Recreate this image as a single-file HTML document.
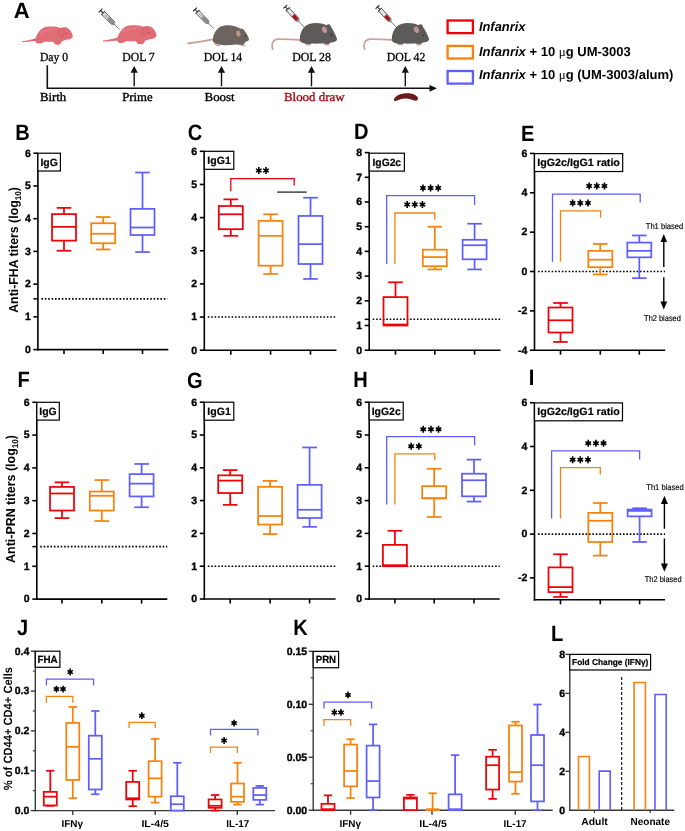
<!DOCTYPE html>
<html><head><meta charset="utf-8"><style>
html,body{margin:0;padding:0;background:#fff;width:685px;height:831px;overflow:hidden}
svg{display:block;will-change:transform;text-rendering:geometricPrecision}
</style></head><body>
<svg width="685" height="831" viewBox="0 0 685 831">
<rect width="685" height="831" fill="#fff"/>
<text x="13.85" y="17.60" font-family="Liberation Sans" font-size="22" font-weight="bold" font-style="normal" text-anchor="start" fill="#000" >A</text>
<g transform="translate(18,20) scale(1.0)">
<path d="M3.9,21.2 C9,20.5 14,19.5 17.5,18.2 C19,14 21.5,10 25,8 C28,6.4 33,6.3 38,6.8 C40.5,7.1 41.5,7.8 42.5,8 C44,7.2 46.5,7.0 49,7.8 C52,9.2 54.5,13 54.8,16.3 C54.6,18.2 52.5,19.3 50,19.6 C47.5,19.9 45.5,20.6 44,21.4 C43,22.5 42.8,24 41.6,24.6 C40,24.9 38,24.8 36.8,24.3 C36.3,23.3 35.8,22.2 35,21.8 C31,21.9 28,21.9 26,21.7 C25,22.6 23.5,23.5 21.9,23.5 C20,23.6 18.7,23.4 18.2,22.8 C17.6,22.2 17.4,21.6 17.2,21.1 C13,21.6 8,22.1 3.9,22.2 Z" stroke="none" stroke-width="0" fill="#e06c75" />
<path d="M22,12 C28,8 36,8 42,9 C36,10 28,11 22,14 Z" fill="#ea8088" opacity="0.6"/>
<ellipse cx="43.5" cy="12.6" rx="2.6" ry="3.6" fill="none" stroke="#c9535b" stroke-width="0.6"/>
<circle cx="48" cy="13.6" r="0.9" fill="#b04048"/>
</g>
<g transform="translate(99,18.3) scale(1.05)">
<path d="M3.9,21.2 C9,20.5 14,19.5 17.5,18.2 C19,14 21.5,10 25,8 C28,6.4 33,6.3 38,6.8 C40.5,7.1 41.5,7.8 42.5,8 C44,7.2 46.5,7.0 49,7.8 C52,9.2 54.5,13 54.8,16.3 C54.6,18.2 52.5,19.3 50,19.6 C47.5,19.9 45.5,20.6 44,21.4 C43,22.5 42.8,24 41.6,24.6 C40,24.9 38,24.8 36.8,24.3 C36.3,23.3 35.8,22.2 35,21.8 C31,21.9 28,21.9 26,21.7 C25,22.6 23.5,23.5 21.9,23.5 C20,23.6 18.7,23.4 18.2,22.8 C17.6,22.2 17.4,21.6 17.2,21.1 C13,21.6 8,22.1 3.9,22.2 Z" stroke="none" stroke-width="0" fill="#e06c75" />
<path d="M22,12 C28,8 36,8 42,9 C36,10 28,11 22,14 Z" fill="#ea8088" opacity="0.6"/>
<ellipse cx="43.5" cy="12.6" rx="2.6" ry="3.6" fill="none" stroke="#c9535b" stroke-width="0.6"/>
<circle cx="48" cy="13.6" r="0.9" fill="#b04048"/>
</g>
<g transform="translate(100.60,10.50) rotate(45.15)">
<line x1="0" y1="-2.6" x2="0" y2="2.6" stroke="#333" stroke-width="1.2"/>
<line x1="0" y1="0" x2="3.6" y2="0" stroke="#333" stroke-width="1.1"/>
<line x1="3.6" y1="-2.6" x2="3.6" y2="2.6" stroke="#333" stroke-width="1.2"/>
<rect x="3.8" y="-2" width="14.01" height="4" fill="#e4e4e4" stroke="#444" stroke-width="0.8"/>
<rect x="10.80" y="-1.6" width="6.58" height="3.2" fill="#8a8a8a"/>
<line x1="6" y1="0" x2="10.80" y2="0" stroke="#aaa" stroke-width="1.2"/>
<path d="M17.81,-1.3 L19.81,-0.6 L19.81,0.6 L17.81,1.3 Z" fill="#ccc" stroke="#444" stroke-width="0.6"/>
<line x1="19.81" y1="0" x2="26.94" y2="0" stroke="#555" stroke-width="0.7"/>
</g>
<g transform="translate(195.00,9.40) rotate(45.76)">
<line x1="0" y1="-2.6" x2="0" y2="2.6" stroke="#333" stroke-width="1.2"/>
<line x1="0" y1="0" x2="3.6" y2="0" stroke="#333" stroke-width="1.1"/>
<line x1="3.6" y1="-2.6" x2="3.6" y2="2.6" stroke="#333" stroke-width="1.2"/>
<rect x="3.8" y="-2" width="13.86" height="4" fill="#e4e4e4" stroke="#444" stroke-width="0.8"/>
<rect x="10.73" y="-1.6" width="6.52" height="3.2" fill="#8a8a8a"/>
<line x1="6" y1="0" x2="10.73" y2="0" stroke="#aaa" stroke-width="1.2"/>
<path d="M17.66,-1.3 L19.66,-0.6 L19.66,0.6 L17.66,1.3 Z" fill="#ccc" stroke="#444" stroke-width="0.6"/>
<line x1="19.66" y1="0" x2="26.66" y2="0" stroke="#555" stroke-width="0.7"/>
</g>
<path d="M188.1,43.4 C195,42.4 203,41.3 213.8,39.4" stroke="#c9a09b" stroke-width="1.8" fill="none" stroke-linecap="round"/>
<path d="M212.8,41 C212.8,35 215.5,29.5 220,27 C223,25.4 227,25 231,25.6 C235,26.3 238,27.5 240,28.6 C242,28.4 243.5,29.3 244.5,30.8 C246.3,33.2 248,36 248.9,38.5 C249.2,40 248.3,41 246.5,41.6 C245.5,42 244.8,42.5 244.5,43.5 C244,44.8 242.5,45.3 240.5,45 C238.5,44.7 237,44.4 235.5,44.6 C232,45.2 228,45.5 224,45.3 C221,45.2 219,44.8 217.5,44.3 C215,43.5 213.2,42.6 212.8,41 Z" stroke="none" stroke-width="0" fill="#6d645f" />
<ellipse cx="238.3" cy="33.6" rx="2.1" ry="3" fill="#c4938e" transform="rotate(-10 238.3 33.6)"/>
<circle cx="245.3" cy="36.3" r="0.7" fill="#222"/>
<path d="M214.5,43.6 C216,45.3 218.5,45.8 220,45.3 M240.5,44.6 C242,46 244.5,46 245.5,45.2" stroke="#c9a09b" stroke-width="1.1" fill="none"/>
<g transform="translate(285.30,6.60) rotate(47.50)">
<line x1="0" y1="-2.6" x2="0" y2="2.6" stroke="#333" stroke-width="1.2"/>
<line x1="0" y1="0" x2="3.6" y2="0" stroke="#333" stroke-width="1.1"/>
<line x1="3.6" y1="-2.6" x2="3.6" y2="2.6" stroke="#333" stroke-width="1.2"/>
<rect x="3.8" y="-2" width="14.32" height="4" fill="#e4e4e4" stroke="#444" stroke-width="0.8"/>
<rect x="11.67" y="-1.6" width="6.01" height="3.2" fill="#b01018"/>
<path d="M18.12,-1.3 L20.12,-0.6 L20.12,0.6 L18.12,1.3 Z" fill="#ccc" stroke="#444" stroke-width="0.6"/>
<line x1="20.12" y1="0" x2="27.53" y2="0" stroke="#555" stroke-width="0.7"/>
</g>
<path d="M31,22 C24,21.5 15,21 8.5,21.1 C4.5,21.4 2.2,24 2.1,27 C2.1,29 2.3,30.3 2.7,31.2" stroke="#cfa19c" stroke-width="1.8" fill="none" transform="translate(270,18) scale(1.0)" stroke-linecap="round"/>
<g transform="translate(270,18) scale(1.0)">
<path d="M29.8,22.7 C29.6,17.5 31,12.5 34,9.3 C37,6.3 41,5 46,5 C50,5 53.5,5.8 56.5,7.2 C57.3,6.3 58.5,6.1 59.5,6.6 C60.6,7.2 61,8.3 61.2,9.3 C63,12 65.5,16.5 67,20.5 C67.3,22.3 66,23.5 64,24 C62.3,24.4 61,24.6 60,24.8 C59.3,25.8 58.5,26.6 57,26.6 C55.5,26.6 54.5,26.2 54,25.6 C50,25.6 45,25.7 41.5,25.6 C40.5,26.4 39,26.8 37.5,26.5 C36,26.2 34.8,25.8 34,25.3 C32.5,24.9 31,24 29.8,22.7 Z" stroke="none" stroke-width="0" fill="#5d5b5a" />
<ellipse cx="54.4" cy="11.8" rx="2.4" ry="3.3" fill="#bf9592" transform="rotate(-20 54.4 11.8)"/>
<circle cx="61.2" cy="17.3" r="0.75" fill="#1e1e1e"/>
<path d="M35,25.6 C36.5,26.9 39,27.3 41,26.7 M54,25.8 C55.5,27 58,27.1 59.5,26.4" stroke="#cfa19c" stroke-width="1.1" fill="none"/>
</g>
<g transform="translate(377.50,7.00) rotate(47.24)">
<line x1="0" y1="-2.6" x2="0" y2="2.6" stroke="#333" stroke-width="1.2"/>
<line x1="0" y1="0" x2="3.6" y2="0" stroke="#333" stroke-width="1.1"/>
<line x1="3.6" y1="-2.6" x2="3.6" y2="2.6" stroke="#333" stroke-width="1.2"/>
<rect x="3.8" y="-2" width="14.09" height="4" fill="#e4e4e4" stroke="#444" stroke-width="0.8"/>
<rect x="11.55" y="-1.6" width="5.92" height="3.2" fill="#b01018"/>
<path d="M17.89,-1.3 L19.89,-0.6 L19.89,0.6 L17.89,1.3 Z" fill="#ccc" stroke="#444" stroke-width="0.6"/>
<line x1="19.89" y1="0" x2="27.10" y2="0" stroke="#555" stroke-width="0.7"/>
</g>
<path d="M31,22 C24,21.5 15,21 8.5,21.1 C4.5,21.4 2.2,24 2.1,27 C2.1,29 2.3,30.3 2.7,31.2" stroke="#cfa19c" stroke-width="1.8" fill="none" transform="translate(362,18) scale(1.0)" stroke-linecap="round"/>
<g transform="translate(362,18) scale(1.0)">
<path d="M29.8,22.7 C29.6,17.5 31,12.5 34,9.3 C37,6.3 41,5 46,5 C50,5 53.5,5.8 56.5,7.2 C57.3,6.3 58.5,6.1 59.5,6.6 C60.6,7.2 61,8.3 61.2,9.3 C63,12 65.5,16.5 67,20.5 C67.3,22.3 66,23.5 64,24 C62.3,24.4 61,24.6 60,24.8 C59.3,25.8 58.5,26.6 57,26.6 C55.5,26.6 54.5,26.2 54,25.6 C50,25.6 45,25.7 41.5,25.6 C40.5,26.4 39,26.8 37.5,26.5 C36,26.2 34.8,25.8 34,25.3 C32.5,24.9 31,24 29.8,22.7 Z" stroke="none" stroke-width="0" fill="#5d5b5a" />
<ellipse cx="54.4" cy="11.8" rx="2.4" ry="3.3" fill="#bf9592" transform="rotate(-20 54.4 11.8)"/>
<circle cx="61.2" cy="17.3" r="0.75" fill="#1e1e1e"/>
<path d="M35,25.6 C36.5,26.9 39,27.3 41,26.7 M54,25.8 C55.5,27 58,27.1 59.5,26.4" stroke="#cfa19c" stroke-width="1.1" fill="none"/>
</g>
<text x="39.90" y="61.00" font-family="Liberation Serif" font-size="12.3" font-weight="normal" font-style="normal" text-anchor="start" fill="#000" textLength="28.1" lengthAdjust="spacingAndGlyphs" stroke="#000" stroke-width="0.3">Day 0</text>
<text x="122.20" y="61.00" font-family="Liberation Serif" font-size="12.3" font-weight="normal" font-style="normal" text-anchor="start" fill="#000" textLength="32.5" lengthAdjust="spacingAndGlyphs" stroke="#000" stroke-width="0.3">DOL 7</text>
<text x="203.70" y="61.00" font-family="Liberation Serif" font-size="12.3" font-weight="normal" font-style="normal" text-anchor="start" fill="#000" textLength="38.5" lengthAdjust="spacingAndGlyphs" stroke="#000" stroke-width="0.3">DOL 14</text>
<text x="292.20" y="61.00" font-family="Liberation Serif" font-size="12.3" font-weight="normal" font-style="normal" text-anchor="start" fill="#000" textLength="38.8" lengthAdjust="spacingAndGlyphs" stroke="#000" stroke-width="0.3">DOL 28</text>
<text x="386.70" y="61.00" font-family="Liberation Serif" font-size="12.3" font-weight="normal" font-style="normal" text-anchor="start" fill="#000" textLength="38.6" lengthAdjust="spacingAndGlyphs" stroke="#000" stroke-width="0.3">DOL 42</text>
<text x="39.90" y="100.80" font-family="Liberation Serif" font-size="12.3" font-weight="normal" font-style="normal" text-anchor="start" fill="#000" textLength="26.3" lengthAdjust="spacingAndGlyphs" stroke="#000" stroke-width="0.35">Birth</text>
<text x="122.20" y="100.80" font-family="Liberation Serif" font-size="12.3" font-weight="normal" font-style="normal" text-anchor="start" fill="#000" textLength="30.4" lengthAdjust="spacingAndGlyphs" stroke="#000" stroke-width="0.35">Prime</text>
<text x="204.50" y="100.80" font-family="Liberation Serif" font-size="12.3" font-weight="normal" font-style="normal" text-anchor="start" fill="#000" textLength="30.2" lengthAdjust="spacingAndGlyphs" stroke="#000" stroke-width="0.35">Boost</text>
<text x="284.00" y="100.80" font-family="Liberation Serif" font-size="12.3" font-weight="normal" font-style="normal" text-anchor="start" fill="#a90e17" textLength="60.5" lengthAdjust="spacingAndGlyphs" stroke="#a90e17" stroke-width="0.35">Blood draw</text>
<path d="M47.3,65.2 V88.3 H431" stroke="#111" stroke-width="1.6" fill="none" />
<path d="M429.5,84.9 L437,88.3 L429.5,91.7 Z" fill="#111"/>
<line x1="134.20" y1="86.30" x2="134.20" y2="71.00" stroke="#111" stroke-width="1.4" />
<path d="M130.60,72.8 L134.20,65.9 L137.80,72.8 Z" fill="#111"/>
<line x1="221.50" y1="86.30" x2="221.50" y2="71.00" stroke="#111" stroke-width="1.4" />
<path d="M217.90,72.8 L221.50,65.9 L225.10,72.8 Z" fill="#111"/>
<line x1="311.50" y1="86.30" x2="311.50" y2="71.00" stroke="#111" stroke-width="1.4" />
<path d="M307.90,72.8 L311.50,65.9 L315.10,72.8 Z" fill="#111"/>
<line x1="405.30" y1="86.30" x2="405.30" y2="71.00" stroke="#111" stroke-width="1.4" />
<path d="M401.70,72.8 L405.30,65.9 L408.90,72.8 Z" fill="#111"/>
<path d="M394,100.5 C393.5,97.5 398,94 405,93.2 C411,92.8 416,94.2 417.8,97.5 C418.3,99.5 417.5,100.8 415.5,100.7 C413,100.5 410,98.7 405.5,98.6 C401,98.6 398,100.6 396,101 C395,101.2 394.2,101 394,100.5 Z" fill="#6a1a1c"/>
<rect x="447.6" y="20.50" width="25.3" height="12.6" fill="none" stroke="#f00008" stroke-width="2.3"/>
<rect x="447.6" y="45.90" width="25.3" height="12.6" fill="none" stroke="#f7820c" stroke-width="2.3"/>
<rect x="447.6" y="71.00" width="25.3" height="12.6" fill="none" stroke="#5f5fff" stroke-width="2.3"/>
<text x="478.90" y="31.40" font-family="Liberation Sans" font-size="13" font-weight="bold" font-style="italic" text-anchor="start" fill="#000" textLength="46.6" lengthAdjust="spacingAndGlyphs" >Infanrix</text>
<text x="478.90" y="55.50" font-family="Liberation Sans" font-size="13" font-weight="bold" font-style="normal" text-anchor="start" fill="#000" ><tspan font-style="italic">Infanrix</tspan> + 10 <tspan font-family="Liberation Serif" font-weight="normal">&#956;</tspan>g UM-3003</text>
<text x="478.90" y="79.20" font-family="Liberation Sans" font-size="13" font-weight="bold" font-style="normal" text-anchor="start" fill="#000" ><tspan font-style="italic">Infanrix</tspan> + 10 <tspan font-family="Liberation Serif" font-weight="normal">&#956;</tspan>g (UM-3003/alum)</text>
<text transform="translate(15.30,139.50) scale(0.9,1)" font-family="Liberation Sans" font-size="22.3" font-weight="bold">B</text>
<line x1="41.40" y1="298.87" x2="167.50" y2="298.87" stroke="#000" stroke-width="1.6" stroke-dasharray="1.6 1.8"/>
<line x1="33.40" y1="298.87" x2="37.90" y2="298.87" stroke="#000" stroke-width="1.5" />
<line x1="37.90" y1="153.22" x2="37.90" y2="350.40" stroke="#000" stroke-width="1.6" />
<line x1="37.10" y1="349.60" x2="168.30" y2="349.60" stroke="#000" stroke-width="1.6" />
<line x1="33.40" y1="349.60" x2="37.90" y2="349.60" stroke="#000" stroke-width="1.6" />
<text x="30.80" y="352.95" font-family="Liberation Sans" font-size="10.5" font-weight="bold" font-style="normal" text-anchor="end" fill="#000" stroke="#000" stroke-width="0.35">0</text>
<line x1="33.40" y1="316.87" x2="37.90" y2="316.87" stroke="#000" stroke-width="1.6" />
<text x="30.80" y="320.22" font-family="Liberation Sans" font-size="10.5" font-weight="bold" font-style="normal" text-anchor="end" fill="#000" stroke="#000" stroke-width="0.35">1</text>
<line x1="33.40" y1="284.14" x2="37.90" y2="284.14" stroke="#000" stroke-width="1.6" />
<text x="30.80" y="287.49" font-family="Liberation Sans" font-size="10.5" font-weight="bold" font-style="normal" text-anchor="end" fill="#000" stroke="#000" stroke-width="0.35">2</text>
<line x1="33.40" y1="251.41" x2="37.90" y2="251.41" stroke="#000" stroke-width="1.6" />
<text x="30.80" y="254.76" font-family="Liberation Sans" font-size="10.5" font-weight="bold" font-style="normal" text-anchor="end" fill="#000" stroke="#000" stroke-width="0.35">3</text>
<line x1="33.40" y1="218.68" x2="37.90" y2="218.68" stroke="#000" stroke-width="1.6" />
<text x="30.80" y="222.03" font-family="Liberation Sans" font-size="10.5" font-weight="bold" font-style="normal" text-anchor="end" fill="#000" stroke="#000" stroke-width="0.35">4</text>
<line x1="33.40" y1="185.95" x2="37.90" y2="185.95" stroke="#000" stroke-width="1.6" />
<text x="30.80" y="189.30" font-family="Liberation Sans" font-size="10.5" font-weight="bold" font-style="normal" text-anchor="end" fill="#000" stroke="#000" stroke-width="0.35">5</text>
<line x1="33.40" y1="153.22" x2="37.90" y2="153.22" stroke="#000" stroke-width="1.6" />
<text x="30.80" y="156.57" font-family="Liberation Sans" font-size="10.5" font-weight="bold" font-style="normal" text-anchor="end" fill="#000" stroke="#000" stroke-width="0.35">6</text>
<line x1="64.00" y1="349.60" x2="64.00" y2="354.10" stroke="#000" stroke-width="1.6" />
<line x1="103.20" y1="349.60" x2="103.20" y2="354.10" stroke="#000" stroke-width="1.6" />
<line x1="142.50" y1="349.60" x2="142.50" y2="354.10" stroke="#000" stroke-width="1.6" />
<rect x="37.90" y="153.22" width="22.50" height="17.80" fill="#fff" stroke="#000" stroke-width="1.2"/>
<text x="49.15" y="165.59" font-family="Liberation Sans" font-size="10.5" font-weight="bold" font-style="normal" text-anchor="middle" fill="#000" textLength="17.4" lengthAdjust="spacingAndGlyphs" stroke="#000" stroke-width="0.2">IgG</text>
<line x1="64.00" y1="207.88" x2="64.00" y2="214.10" stroke="#f00008" stroke-width="1.75" />
<line x1="56.70" y1="207.88" x2="71.30" y2="207.88" stroke="#f00008" stroke-width="1.75" />
<line x1="64.00" y1="240.61" x2="64.00" y2="250.76" stroke="#f00008" stroke-width="1.75" />
<line x1="56.70" y1="250.76" x2="71.30" y2="250.76" stroke="#f00008" stroke-width="1.75" />
<rect x="52.00" y="214.10" width="24.00" height="26.51" fill="none" stroke="#f00008" stroke-width="1.75"/>
<line x1="52.00" y1="226.86" x2="76.00" y2="226.86" stroke="#f00008" stroke-width="1.75" />
<line x1="103.20" y1="217.04" x2="103.20" y2="223.26" stroke="#f7820c" stroke-width="1.75" />
<line x1="95.90" y1="217.04" x2="110.50" y2="217.04" stroke="#f7820c" stroke-width="1.75" />
<line x1="103.20" y1="243.23" x2="103.20" y2="249.45" stroke="#f7820c" stroke-width="1.75" />
<line x1="95.90" y1="249.45" x2="110.50" y2="249.45" stroke="#f7820c" stroke-width="1.75" />
<rect x="91.20" y="223.26" width="24.00" height="19.97" fill="none" stroke="#f7820c" stroke-width="1.75"/>
<line x1="91.20" y1="233.74" x2="115.20" y2="233.74" stroke="#f7820c" stroke-width="1.75" />
<line x1="142.50" y1="172.53" x2="142.50" y2="208.86" stroke="#5f5fff" stroke-width="1.75" />
<line x1="135.20" y1="172.53" x2="149.80" y2="172.53" stroke="#5f5fff" stroke-width="1.75" />
<line x1="142.50" y1="235.05" x2="142.50" y2="252.06" stroke="#5f5fff" stroke-width="1.75" />
<line x1="135.20" y1="252.06" x2="149.80" y2="252.06" stroke="#5f5fff" stroke-width="1.75" />
<rect x="130.50" y="208.86" width="24.00" height="26.18" fill="none" stroke="#5f5fff" stroke-width="1.75"/>
<line x1="130.50" y1="227.52" x2="154.50" y2="227.52" stroke="#5f5fff" stroke-width="1.75" />
<text transform="translate(17.50,250.00) rotate(-90)" font-family="Liberation Sans" font-size="13" font-weight="bold" text-anchor="middle" textLength="125.6" lengthAdjust="spacingAndGlyphs">Anti-FHA titers (log<tspan font-size="8.5" dy="3">10</tspan><tspan dy="-3">)</tspan></text>
<text transform="translate(187.80,140.10) scale(0.9,1)" font-family="Liberation Sans" font-size="22.3" font-weight="bold">C</text>
<line x1="207.80" y1="317.05" x2="336.50" y2="317.05" stroke="#000" stroke-width="1.6" stroke-dasharray="1.6 1.8"/>
<line x1="204.30" y1="151.30" x2="204.30" y2="351.00" stroke="#000" stroke-width="1.6" />
<line x1="203.50" y1="350.20" x2="336.50" y2="350.20" stroke="#000" stroke-width="1.6" />
<line x1="199.80" y1="350.20" x2="204.30" y2="350.20" stroke="#000" stroke-width="1.6" />
<text x="197.20" y="353.55" font-family="Liberation Sans" font-size="10.5" font-weight="bold" font-style="normal" text-anchor="end" fill="#000" stroke="#000" stroke-width="0.35">0</text>
<line x1="199.80" y1="317.05" x2="204.30" y2="317.05" stroke="#000" stroke-width="1.6" />
<text x="197.20" y="320.40" font-family="Liberation Sans" font-size="10.5" font-weight="bold" font-style="normal" text-anchor="end" fill="#000" stroke="#000" stroke-width="0.35">1</text>
<line x1="199.80" y1="283.90" x2="204.30" y2="283.90" stroke="#000" stroke-width="1.6" />
<text x="197.20" y="287.25" font-family="Liberation Sans" font-size="10.5" font-weight="bold" font-style="normal" text-anchor="end" fill="#000" stroke="#000" stroke-width="0.35">2</text>
<line x1="199.80" y1="250.75" x2="204.30" y2="250.75" stroke="#000" stroke-width="1.6" />
<text x="197.20" y="254.10" font-family="Liberation Sans" font-size="10.5" font-weight="bold" font-style="normal" text-anchor="end" fill="#000" stroke="#000" stroke-width="0.35">3</text>
<line x1="199.80" y1="217.60" x2="204.30" y2="217.60" stroke="#000" stroke-width="1.6" />
<text x="197.20" y="220.95" font-family="Liberation Sans" font-size="10.5" font-weight="bold" font-style="normal" text-anchor="end" fill="#000" stroke="#000" stroke-width="0.35">4</text>
<line x1="199.80" y1="184.45" x2="204.30" y2="184.45" stroke="#000" stroke-width="1.6" />
<text x="197.20" y="187.80" font-family="Liberation Sans" font-size="10.5" font-weight="bold" font-style="normal" text-anchor="end" fill="#000" stroke="#000" stroke-width="0.35">5</text>
<line x1="199.80" y1="151.30" x2="204.30" y2="151.30" stroke="#000" stroke-width="1.6" />
<text x="197.20" y="154.65" font-family="Liberation Sans" font-size="10.5" font-weight="bold" font-style="normal" text-anchor="end" fill="#000" stroke="#000" stroke-width="0.35">6</text>
<line x1="230.80" y1="350.20" x2="230.80" y2="354.70" stroke="#000" stroke-width="1.6" />
<line x1="270.60" y1="350.20" x2="270.60" y2="354.70" stroke="#000" stroke-width="1.6" />
<line x1="310.50" y1="350.20" x2="310.50" y2="354.70" stroke="#000" stroke-width="1.6" />
<rect x="204.30" y="151.30" width="29.50" height="18.00" fill="#fff" stroke="#000" stroke-width="1.2"/>
<text x="219.05" y="163.77" font-family="Liberation Sans" font-size="10.5" font-weight="bold" font-style="normal" text-anchor="middle" fill="#000" textLength="23.5" lengthAdjust="spacingAndGlyphs" stroke="#000" stroke-width="0.2">IgG1</text>
<line x1="230.80" y1="199.37" x2="230.80" y2="206.00" stroke="#f00008" stroke-width="1.75" />
<line x1="223.50" y1="199.37" x2="238.10" y2="199.37" stroke="#f00008" stroke-width="1.75" />
<line x1="230.80" y1="229.20" x2="230.80" y2="235.83" stroke="#f00008" stroke-width="1.75" />
<line x1="223.50" y1="235.83" x2="238.10" y2="235.83" stroke="#f00008" stroke-width="1.75" />
<rect x="218.80" y="206.00" width="24.00" height="23.20" fill="none" stroke="#f00008" stroke-width="1.75"/>
<line x1="218.80" y1="214.28" x2="242.80" y2="214.28" stroke="#f00008" stroke-width="1.75" />
<line x1="270.60" y1="214.28" x2="270.60" y2="220.91" stroke="#f7820c" stroke-width="1.75" />
<line x1="263.30" y1="214.28" x2="277.90" y2="214.28" stroke="#f7820c" stroke-width="1.75" />
<line x1="270.60" y1="265.67" x2="270.60" y2="273.95" stroke="#f7820c" stroke-width="1.75" />
<line x1="263.30" y1="273.95" x2="277.90" y2="273.95" stroke="#f7820c" stroke-width="1.75" />
<rect x="258.60" y="220.91" width="24.00" height="44.75" fill="none" stroke="#f7820c" stroke-width="1.75"/>
<line x1="258.60" y1="235.83" x2="282.60" y2="235.83" stroke="#f7820c" stroke-width="1.75" />
<line x1="310.50" y1="197.71" x2="310.50" y2="215.94" stroke="#5f5fff" stroke-width="1.75" />
<line x1="303.20" y1="197.71" x2="317.80" y2="197.71" stroke="#5f5fff" stroke-width="1.75" />
<line x1="310.50" y1="264.01" x2="310.50" y2="278.93" stroke="#5f5fff" stroke-width="1.75" />
<line x1="303.20" y1="278.93" x2="317.80" y2="278.93" stroke="#5f5fff" stroke-width="1.75" />
<rect x="298.50" y="215.94" width="24.00" height="48.07" fill="none" stroke="#5f5fff" stroke-width="1.75"/>
<line x1="298.50" y1="244.12" x2="322.50" y2="244.12" stroke="#5f5fff" stroke-width="1.75" />
<path d="M230.80,191.30 V178.60 H294.20 V185.60" stroke="#f00008" stroke-width="1.3" fill="none" />
<line x1="277.10" y1="192.10" x2="306.70" y2="192.10" stroke="#333" stroke-width="1.4" />
<path d="M258.80,167.00 V174.00 M256.01,168.89 L261.59,172.11 M256.01,172.11 L261.59,168.89 " stroke="#000" stroke-width="1.61" fill="none" stroke-linecap="butt"/>
<circle cx="258.80" cy="170.50" r="1.82" fill="#000"/>
<path d="M266.00,167.00 V174.00 M263.21,168.89 L268.79,172.11 M263.21,172.11 L268.79,168.89 " stroke="#000" stroke-width="1.61" fill="none" stroke-linecap="butt"/>
<circle cx="266.00" cy="170.50" r="1.82" fill="#000"/>
<text transform="translate(354.05,139.30) scale(0.9,1)" font-family="Liberation Sans" font-size="22.3" font-weight="bold">D</text>
<line x1="372.70" y1="319.32" x2="500.60" y2="319.32" stroke="#000" stroke-width="1.6" stroke-dasharray="1.6 1.8"/>
<line x1="364.70" y1="319.32" x2="369.20" y2="319.32" stroke="#000" stroke-width="1.5" />
<line x1="369.20" y1="152.60" x2="369.20" y2="351.00" stroke="#000" stroke-width="1.6" />
<line x1="368.40" y1="350.20" x2="500.60" y2="350.20" stroke="#000" stroke-width="1.6" />
<line x1="364.70" y1="350.20" x2="369.20" y2="350.20" stroke="#000" stroke-width="1.6" />
<text x="362.10" y="353.55" font-family="Liberation Sans" font-size="10.5" font-weight="bold" font-style="normal" text-anchor="end" fill="#000" stroke="#000" stroke-width="0.35">0</text>
<line x1="364.70" y1="325.50" x2="369.20" y2="325.50" stroke="#000" stroke-width="1.6" />
<text x="362.10" y="328.85" font-family="Liberation Sans" font-size="10.5" font-weight="bold" font-style="normal" text-anchor="end" fill="#000" stroke="#000" stroke-width="0.35">1</text>
<line x1="364.70" y1="300.80" x2="369.20" y2="300.80" stroke="#000" stroke-width="1.6" />
<text x="362.10" y="304.15" font-family="Liberation Sans" font-size="10.5" font-weight="bold" font-style="normal" text-anchor="end" fill="#000" stroke="#000" stroke-width="0.35">2</text>
<line x1="364.70" y1="276.10" x2="369.20" y2="276.10" stroke="#000" stroke-width="1.6" />
<text x="362.10" y="279.45" font-family="Liberation Sans" font-size="10.5" font-weight="bold" font-style="normal" text-anchor="end" fill="#000" stroke="#000" stroke-width="0.35">3</text>
<line x1="364.70" y1="251.40" x2="369.20" y2="251.40" stroke="#000" stroke-width="1.6" />
<text x="362.10" y="254.75" font-family="Liberation Sans" font-size="10.5" font-weight="bold" font-style="normal" text-anchor="end" fill="#000" stroke="#000" stroke-width="0.35">4</text>
<line x1="364.70" y1="226.70" x2="369.20" y2="226.70" stroke="#000" stroke-width="1.6" />
<text x="362.10" y="230.05" font-family="Liberation Sans" font-size="10.5" font-weight="bold" font-style="normal" text-anchor="end" fill="#000" stroke="#000" stroke-width="0.35">5</text>
<line x1="364.70" y1="202.00" x2="369.20" y2="202.00" stroke="#000" stroke-width="1.6" />
<text x="362.10" y="205.35" font-family="Liberation Sans" font-size="10.5" font-weight="bold" font-style="normal" text-anchor="end" fill="#000" stroke="#000" stroke-width="0.35">6</text>
<line x1="364.70" y1="177.30" x2="369.20" y2="177.30" stroke="#000" stroke-width="1.6" />
<text x="362.10" y="180.65" font-family="Liberation Sans" font-size="10.5" font-weight="bold" font-style="normal" text-anchor="end" fill="#000" stroke="#000" stroke-width="0.35">7</text>
<line x1="364.70" y1="152.60" x2="369.20" y2="152.60" stroke="#000" stroke-width="1.6" />
<text x="362.10" y="155.95" font-family="Liberation Sans" font-size="10.5" font-weight="bold" font-style="normal" text-anchor="end" fill="#000" stroke="#000" stroke-width="0.35">8</text>
<line x1="395.50" y1="350.20" x2="395.50" y2="354.70" stroke="#000" stroke-width="1.6" />
<line x1="434.80" y1="350.20" x2="434.80" y2="354.70" stroke="#000" stroke-width="1.6" />
<line x1="474.60" y1="350.20" x2="474.60" y2="354.70" stroke="#000" stroke-width="1.6" />
<rect x="369.20" y="153.20" width="35.20" height="17.90" fill="#fff" stroke="#000" stroke-width="1.2"/>
<text x="386.80" y="165.61" font-family="Liberation Sans" font-size="10.5" font-weight="bold" font-style="normal" text-anchor="middle" fill="#000" textLength="28.6" lengthAdjust="spacingAndGlyphs" stroke="#000" stroke-width="0.2">IgG2c</text>
<line x1="395.50" y1="282.27" x2="395.50" y2="297.09" stroke="#f00008" stroke-width="1.75" />
<line x1="388.20" y1="282.27" x2="402.80" y2="282.27" stroke="#f00008" stroke-width="1.75" />
<rect x="383.50" y="297.09" width="24.00" height="28.41" fill="none" stroke="#f00008" stroke-width="1.75"/>
<line x1="383.50" y1="324.50" x2="407.50" y2="324.50" stroke="#f00008" stroke-width="1.75" />
<line x1="434.80" y1="226.70" x2="434.80" y2="249.67" stroke="#f7820c" stroke-width="1.75" />
<line x1="427.50" y1="226.70" x2="442.10" y2="226.70" stroke="#f7820c" stroke-width="1.75" />
<line x1="434.80" y1="266.22" x2="434.80" y2="269.43" stroke="#f7820c" stroke-width="1.75" />
<line x1="427.50" y1="269.43" x2="442.10" y2="269.43" stroke="#f7820c" stroke-width="1.75" />
<rect x="422.80" y="249.67" width="24.00" height="16.55" fill="none" stroke="#f7820c" stroke-width="1.75"/>
<line x1="422.80" y1="257.08" x2="446.80" y2="257.08" stroke="#f7820c" stroke-width="1.75" />
<line x1="474.60" y1="223.74" x2="474.60" y2="239.79" stroke="#5f5fff" stroke-width="1.75" />
<line x1="467.30" y1="223.74" x2="481.90" y2="223.74" stroke="#5f5fff" stroke-width="1.75" />
<line x1="474.60" y1="259.30" x2="474.60" y2="269.43" stroke="#5f5fff" stroke-width="1.75" />
<line x1="467.30" y1="269.43" x2="481.90" y2="269.43" stroke="#5f5fff" stroke-width="1.75" />
<rect x="462.60" y="239.79" width="24.00" height="19.51" fill="none" stroke="#5f5fff" stroke-width="1.75"/>
<line x1="462.60" y1="245.22" x2="486.60" y2="245.22" stroke="#5f5fff" stroke-width="1.75" />
<path d="M386.70,264.00 V195.60 H474.60 V205.00" stroke="#5f5fff" stroke-width="1.3" fill="none" />
<path d="M394.90,264.00 V213.00 H434.80 V219.70" stroke="#f7820c" stroke-width="1.3" fill="none" />
<path d="M422.95,184.50 V191.50 M420.16,186.39 L425.74,189.61 M420.16,189.61 L425.74,186.39 " stroke="#000" stroke-width="1.61" fill="none" stroke-linecap="butt"/>
<circle cx="422.95" cy="188.00" r="1.82" fill="#000"/>
<path d="M430.60,184.50 V191.50 M427.81,186.39 L433.39,189.61 M427.81,189.61 L433.39,186.39 " stroke="#000" stroke-width="1.61" fill="none" stroke-linecap="butt"/>
<circle cx="430.60" cy="188.00" r="1.82" fill="#000"/>
<path d="M438.25,184.50 V191.50 M435.46,186.39 L441.04,189.61 M435.46,189.61 L441.04,186.39 " stroke="#000" stroke-width="1.61" fill="none" stroke-linecap="butt"/>
<circle cx="438.25" cy="188.00" r="1.82" fill="#000"/>
<path d="M407.15,201.00 V208.00 M404.36,202.89 L409.94,206.11 M404.36,206.11 L409.94,202.89 " stroke="#000" stroke-width="1.61" fill="none" stroke-linecap="butt"/>
<circle cx="407.15" cy="204.50" r="1.82" fill="#000"/>
<path d="M414.80,201.00 V208.00 M412.01,202.89 L417.59,206.11 M412.01,206.11 L417.59,202.89 " stroke="#000" stroke-width="1.61" fill="none" stroke-linecap="butt"/>
<circle cx="414.80" cy="204.50" r="1.82" fill="#000"/>
<path d="M422.45,201.00 V208.00 M419.66,202.89 L425.24,206.11 M419.66,206.11 L425.24,202.89 " stroke="#000" stroke-width="1.61" fill="none" stroke-linecap="butt"/>
<circle cx="422.45" cy="204.50" r="1.82" fill="#000"/>
<text transform="translate(520.95,141.10) scale(0.9,1)" font-family="Liberation Sans" font-size="22.3" font-weight="bold">E</text>
<line x1="538.00" y1="271.50" x2="665.00" y2="271.50" stroke="#000" stroke-width="1.6" stroke-dasharray="1.6 1.8"/>
<line x1="534.50" y1="153.42" x2="534.50" y2="351.02" stroke="#000" stroke-width="1.6" />
<line x1="533.70" y1="350.22" x2="665.20" y2="350.22" stroke="#000" stroke-width="1.6" />
<line x1="530.00" y1="153.42" x2="534.50" y2="153.42" stroke="#000" stroke-width="1.6" />
<text x="527.40" y="156.77" font-family="Liberation Sans" font-size="10.5" font-weight="bold" font-style="normal" text-anchor="end" fill="#000" stroke="#000" stroke-width="0.35">6</text>
<line x1="530.00" y1="192.78" x2="534.50" y2="192.78" stroke="#000" stroke-width="1.6" />
<text x="527.40" y="196.13" font-family="Liberation Sans" font-size="10.5" font-weight="bold" font-style="normal" text-anchor="end" fill="#000" stroke="#000" stroke-width="0.35">4</text>
<line x1="530.00" y1="232.14" x2="534.50" y2="232.14" stroke="#000" stroke-width="1.6" />
<text x="527.40" y="235.49" font-family="Liberation Sans" font-size="10.5" font-weight="bold" font-style="normal" text-anchor="end" fill="#000" stroke="#000" stroke-width="0.35">2</text>
<line x1="530.00" y1="271.50" x2="534.50" y2="271.50" stroke="#000" stroke-width="1.6" />
<text x="527.40" y="274.85" font-family="Liberation Sans" font-size="10.5" font-weight="bold" font-style="normal" text-anchor="end" fill="#000" stroke="#000" stroke-width="0.35">0</text>
<line x1="530.00" y1="310.86" x2="534.50" y2="310.86" stroke="#000" stroke-width="1.6" />
<text x="527.40" y="314.21" font-family="Liberation Sans" font-size="10.5" font-weight="bold" font-style="normal" text-anchor="end" fill="#000" stroke="#000" stroke-width="0.35">-2</text>
<line x1="530.00" y1="350.22" x2="534.50" y2="350.22" stroke="#000" stroke-width="1.6" />
<text x="527.40" y="353.57" font-family="Liberation Sans" font-size="10.5" font-weight="bold" font-style="normal" text-anchor="end" fill="#000" stroke="#000" stroke-width="0.35">-4</text>
<line x1="560.50" y1="350.22" x2="560.50" y2="354.72" stroke="#000" stroke-width="1.6" />
<line x1="600.30" y1="350.22" x2="600.30" y2="354.72" stroke="#000" stroke-width="1.6" />
<line x1="639.30" y1="350.22" x2="639.30" y2="354.72" stroke="#000" stroke-width="1.6" />
<rect x="534.50" y="153.62" width="88.20" height="17.90" fill="#fff" stroke="#000" stroke-width="1.2"/>
<text x="578.60" y="166.03" font-family="Liberation Sans" font-size="10.5" font-weight="bold" font-style="normal" text-anchor="middle" fill="#000" textLength="82.6" lengthAdjust="spacingAndGlyphs" stroke="#000" stroke-width="0.2">IgG2c/IgG1 ratio</text>
<line x1="560.50" y1="302.99" x2="560.50" y2="307.51" stroke="#f00008" stroke-width="1.75" />
<line x1="553.20" y1="302.99" x2="567.80" y2="302.99" stroke="#f00008" stroke-width="1.75" />
<line x1="560.50" y1="332.51" x2="560.50" y2="341.95" stroke="#f00008" stroke-width="1.75" />
<line x1="553.20" y1="341.95" x2="567.80" y2="341.95" stroke="#f00008" stroke-width="1.75" />
<rect x="548.50" y="307.51" width="24.00" height="24.99" fill="none" stroke="#f00008" stroke-width="1.75"/>
<line x1="548.50" y1="320.31" x2="572.50" y2="320.31" stroke="#f00008" stroke-width="1.75" />
<line x1="600.30" y1="243.95" x2="600.30" y2="250.84" stroke="#f7820c" stroke-width="1.75" />
<line x1="593.00" y1="243.95" x2="607.60" y2="243.95" stroke="#f7820c" stroke-width="1.75" />
<line x1="600.30" y1="267.17" x2="600.30" y2="274.45" stroke="#f7820c" stroke-width="1.75" />
<line x1="593.00" y1="274.45" x2="607.60" y2="274.45" stroke="#f7820c" stroke-width="1.75" />
<rect x="588.30" y="250.84" width="24.00" height="16.33" fill="none" stroke="#f7820c" stroke-width="1.75"/>
<line x1="588.30" y1="259.69" x2="612.30" y2="259.69" stroke="#f7820c" stroke-width="1.75" />
<line x1="639.30" y1="235.49" x2="639.30" y2="242.57" stroke="#5f5fff" stroke-width="1.75" />
<line x1="632.00" y1="235.49" x2="646.60" y2="235.49" stroke="#5f5fff" stroke-width="1.75" />
<line x1="639.30" y1="257.33" x2="639.30" y2="278.19" stroke="#5f5fff" stroke-width="1.75" />
<line x1="632.00" y1="278.19" x2="646.60" y2="278.19" stroke="#5f5fff" stroke-width="1.75" />
<rect x="627.30" y="242.57" width="24.00" height="14.76" fill="none" stroke="#5f5fff" stroke-width="1.75"/>
<line x1="627.30" y1="250.84" x2="651.30" y2="250.84" stroke="#5f5fff" stroke-width="1.75" />
<path d="M552.50,261.70 V194.10 H640.20 V202.60" stroke="#5f5fff" stroke-width="1.3" fill="none" />
<path d="M560.50,261.70 V210.90 H600.60 V217.70" stroke="#f7820c" stroke-width="1.3" fill="none" />
<path d="M589.15,182.50 V189.50 M586.36,184.39 L591.94,187.61 M586.36,187.61 L591.94,184.39 " stroke="#000" stroke-width="1.61" fill="none" stroke-linecap="butt"/>
<circle cx="589.15" cy="186.00" r="1.82" fill="#000"/>
<path d="M596.80,182.50 V189.50 M594.01,184.39 L599.59,187.61 M594.01,187.61 L599.59,184.39 " stroke="#000" stroke-width="1.61" fill="none" stroke-linecap="butt"/>
<circle cx="596.80" cy="186.00" r="1.82" fill="#000"/>
<path d="M604.45,182.50 V189.50 M601.66,184.39 L607.24,187.61 M601.66,187.61 L607.24,184.39 " stroke="#000" stroke-width="1.61" fill="none" stroke-linecap="butt"/>
<circle cx="604.45" cy="186.00" r="1.82" fill="#000"/>
<path d="M572.65,199.50 V206.50 M569.86,201.39 L575.44,204.61 M569.86,204.61 L575.44,201.39 " stroke="#000" stroke-width="1.61" fill="none" stroke-linecap="butt"/>
<circle cx="572.65" cy="203.00" r="1.82" fill="#000"/>
<path d="M580.30,199.50 V206.50 M577.51,201.39 L583.09,204.61 M577.51,204.61 L583.09,201.39 " stroke="#000" stroke-width="1.61" fill="none" stroke-linecap="butt"/>
<circle cx="580.30" cy="203.00" r="1.82" fill="#000"/>
<path d="M587.95,199.50 V206.50 M585.16,201.39 L590.74,204.61 M585.16,204.61 L590.74,201.39 " stroke="#000" stroke-width="1.61" fill="none" stroke-linecap="butt"/>
<circle cx="587.95" cy="203.00" r="1.82" fill="#000"/>
<text x="664.50" y="228.80" font-family="Liberation Sans" font-size="8.3" font-weight="normal" font-style="normal" text-anchor="middle" fill="#000" textLength="37.5" lengthAdjust="spacingAndGlyphs" stroke="#000" stroke-width="0.15">Th1 biased</text>
<text x="662.50" y="320.60" font-family="Liberation Sans" font-size="8.3" font-weight="normal" font-style="normal" text-anchor="middle" fill="#000" textLength="36.8" lengthAdjust="spacingAndGlyphs" stroke="#000" stroke-width="0.15">Th2 biased</text>
<line x1="663.80" y1="267.00" x2="663.80" y2="240.00" stroke="#000" stroke-width="1.4" />
<path d="M660.5,242 L663.8,234 L667.1,242 Z" fill="#000"/>
<line x1="663.80" y1="277.30" x2="663.80" y2="303.00" stroke="#000" stroke-width="1.4" />
<path d="M660.5,301.5 L663.8,309.6 L667.1,301.5 Z" fill="#000"/>
<text transform="translate(17.45,387.10) scale(0.9,1)" font-family="Liberation Sans" font-size="22.3" font-weight="bold">F</text>
<line x1="40.30" y1="546.62" x2="167.30" y2="546.62" stroke="#000" stroke-width="1.6" stroke-dasharray="1.6 1.8"/>
<line x1="32.30" y1="546.62" x2="36.80" y2="546.62" stroke="#000" stroke-width="1.5" />
<line x1="36.80" y1="402.30" x2="36.80" y2="599.90" stroke="#000" stroke-width="1.6" />
<line x1="36.00" y1="599.10" x2="167.30" y2="599.10" stroke="#000" stroke-width="1.6" />
<line x1="32.30" y1="599.10" x2="36.80" y2="599.10" stroke="#000" stroke-width="1.6" />
<text x="29.70" y="602.45" font-family="Liberation Sans" font-size="10.5" font-weight="bold" font-style="normal" text-anchor="end" fill="#000" stroke="#000" stroke-width="0.35">0</text>
<line x1="32.30" y1="566.30" x2="36.80" y2="566.30" stroke="#000" stroke-width="1.6" />
<text x="29.70" y="569.65" font-family="Liberation Sans" font-size="10.5" font-weight="bold" font-style="normal" text-anchor="end" fill="#000" stroke="#000" stroke-width="0.35">1</text>
<line x1="32.30" y1="533.50" x2="36.80" y2="533.50" stroke="#000" stroke-width="1.6" />
<text x="29.70" y="536.85" font-family="Liberation Sans" font-size="10.5" font-weight="bold" font-style="normal" text-anchor="end" fill="#000" stroke="#000" stroke-width="0.35">2</text>
<line x1="32.30" y1="500.70" x2="36.80" y2="500.70" stroke="#000" stroke-width="1.6" />
<text x="29.70" y="504.05" font-family="Liberation Sans" font-size="10.5" font-weight="bold" font-style="normal" text-anchor="end" fill="#000" stroke="#000" stroke-width="0.35">3</text>
<line x1="32.30" y1="467.90" x2="36.80" y2="467.90" stroke="#000" stroke-width="1.6" />
<text x="29.70" y="471.25" font-family="Liberation Sans" font-size="10.5" font-weight="bold" font-style="normal" text-anchor="end" fill="#000" stroke="#000" stroke-width="0.35">4</text>
<line x1="32.30" y1="435.10" x2="36.80" y2="435.10" stroke="#000" stroke-width="1.6" />
<text x="29.70" y="438.45" font-family="Liberation Sans" font-size="10.5" font-weight="bold" font-style="normal" text-anchor="end" fill="#000" stroke="#000" stroke-width="0.35">5</text>
<line x1="32.30" y1="402.30" x2="36.80" y2="402.30" stroke="#000" stroke-width="1.6" />
<text x="29.70" y="405.65" font-family="Liberation Sans" font-size="10.5" font-weight="bold" font-style="normal" text-anchor="end" fill="#000" stroke="#000" stroke-width="0.35">6</text>
<line x1="62.00" y1="599.10" x2="62.00" y2="603.60" stroke="#000" stroke-width="1.6" />
<line x1="101.80" y1="599.10" x2="101.80" y2="603.60" stroke="#000" stroke-width="1.6" />
<line x1="141.60" y1="599.10" x2="141.60" y2="603.60" stroke="#000" stroke-width="1.6" />
<rect x="36.80" y="402.30" width="22.50" height="17.80" fill="#fff" stroke="#000" stroke-width="1.2"/>
<text x="48.05" y="414.67" font-family="Liberation Sans" font-size="10.5" font-weight="bold" font-style="normal" text-anchor="middle" fill="#000" textLength="17.4" lengthAdjust="spacingAndGlyphs" stroke="#000" stroke-width="0.2">IgG</text>
<line x1="62.00" y1="482.33" x2="62.00" y2="486.92" stroke="#f00008" stroke-width="1.75" />
<line x1="54.70" y1="482.33" x2="69.30" y2="482.33" stroke="#f00008" stroke-width="1.75" />
<line x1="62.00" y1="510.54" x2="62.00" y2="518.08" stroke="#f00008" stroke-width="1.75" />
<line x1="54.70" y1="518.08" x2="69.30" y2="518.08" stroke="#f00008" stroke-width="1.75" />
<rect x="50.00" y="486.92" width="24.00" height="23.62" fill="none" stroke="#f00008" stroke-width="1.75"/>
<line x1="50.00" y1="493.48" x2="74.00" y2="493.48" stroke="#f00008" stroke-width="1.75" />
<line x1="101.80" y1="480.04" x2="101.80" y2="491.52" stroke="#f7820c" stroke-width="1.75" />
<line x1="94.50" y1="480.04" x2="109.10" y2="480.04" stroke="#f7820c" stroke-width="1.75" />
<line x1="101.80" y1="510.54" x2="101.80" y2="521.04" stroke="#f7820c" stroke-width="1.75" />
<line x1="94.50" y1="521.04" x2="109.10" y2="521.04" stroke="#f7820c" stroke-width="1.75" />
<rect x="89.80" y="491.52" width="24.00" height="19.02" fill="none" stroke="#f7820c" stroke-width="1.75"/>
<line x1="89.80" y1="495.78" x2="113.80" y2="495.78" stroke="#f7820c" stroke-width="1.75" />
<line x1="141.60" y1="463.96" x2="141.60" y2="474.13" stroke="#5f5fff" stroke-width="1.75" />
<line x1="134.30" y1="463.96" x2="148.90" y2="463.96" stroke="#5f5fff" stroke-width="1.75" />
<line x1="141.60" y1="496.44" x2="141.60" y2="507.26" stroke="#5f5fff" stroke-width="1.75" />
<line x1="134.30" y1="507.26" x2="148.90" y2="507.26" stroke="#5f5fff" stroke-width="1.75" />
<rect x="129.60" y="474.13" width="24.00" height="22.30" fill="none" stroke="#5f5fff" stroke-width="1.75"/>
<line x1="129.60" y1="483.64" x2="153.60" y2="483.64" stroke="#5f5fff" stroke-width="1.75" />
<text transform="translate(15.00,499.00) rotate(-90)" font-family="Liberation Sans" font-size="13" font-weight="bold" text-anchor="middle" textLength="127.9" lengthAdjust="spacingAndGlyphs">Anti-PRN titers (log<tspan font-size="8.5" dy="3">10</tspan><tspan dy="-3">)</tspan></text>
<text transform="translate(186.90,388.10) scale(0.9,1)" font-family="Liberation Sans" font-size="22.3" font-weight="bold">G</text>
<line x1="207.80" y1="566.20" x2="335.60" y2="566.20" stroke="#000" stroke-width="1.6" stroke-dasharray="1.6 1.8"/>
<line x1="204.30" y1="402.20" x2="204.30" y2="599.80" stroke="#000" stroke-width="1.6" />
<line x1="203.50" y1="599.00" x2="335.60" y2="599.00" stroke="#000" stroke-width="1.6" />
<line x1="199.80" y1="599.00" x2="204.30" y2="599.00" stroke="#000" stroke-width="1.6" />
<text x="197.20" y="602.35" font-family="Liberation Sans" font-size="10.5" font-weight="bold" font-style="normal" text-anchor="end" fill="#000" stroke="#000" stroke-width="0.35">0</text>
<line x1="199.80" y1="566.20" x2="204.30" y2="566.20" stroke="#000" stroke-width="1.6" />
<text x="197.20" y="569.55" font-family="Liberation Sans" font-size="10.5" font-weight="bold" font-style="normal" text-anchor="end" fill="#000" stroke="#000" stroke-width="0.35">1</text>
<line x1="199.80" y1="533.40" x2="204.30" y2="533.40" stroke="#000" stroke-width="1.6" />
<text x="197.20" y="536.75" font-family="Liberation Sans" font-size="10.5" font-weight="bold" font-style="normal" text-anchor="end" fill="#000" stroke="#000" stroke-width="0.35">2</text>
<line x1="199.80" y1="500.60" x2="204.30" y2="500.60" stroke="#000" stroke-width="1.6" />
<text x="197.20" y="503.95" font-family="Liberation Sans" font-size="10.5" font-weight="bold" font-style="normal" text-anchor="end" fill="#000" stroke="#000" stroke-width="0.35">3</text>
<line x1="199.80" y1="467.80" x2="204.30" y2="467.80" stroke="#000" stroke-width="1.6" />
<text x="197.20" y="471.15" font-family="Liberation Sans" font-size="10.5" font-weight="bold" font-style="normal" text-anchor="end" fill="#000" stroke="#000" stroke-width="0.35">4</text>
<line x1="199.80" y1="435.00" x2="204.30" y2="435.00" stroke="#000" stroke-width="1.6" />
<text x="197.20" y="438.35" font-family="Liberation Sans" font-size="10.5" font-weight="bold" font-style="normal" text-anchor="end" fill="#000" stroke="#000" stroke-width="0.35">5</text>
<line x1="199.80" y1="402.20" x2="204.30" y2="402.20" stroke="#000" stroke-width="1.6" />
<text x="197.20" y="405.55" font-family="Liberation Sans" font-size="10.5" font-weight="bold" font-style="normal" text-anchor="end" fill="#000" stroke="#000" stroke-width="0.35">6</text>
<line x1="230.20" y1="599.00" x2="230.20" y2="603.50" stroke="#000" stroke-width="1.6" />
<line x1="270.10" y1="599.00" x2="270.10" y2="603.50" stroke="#000" stroke-width="1.6" />
<line x1="309.60" y1="599.00" x2="309.60" y2="603.50" stroke="#000" stroke-width="1.6" />
<rect x="204.30" y="402.20" width="29.50" height="18.00" fill="#fff" stroke="#000" stroke-width="1.2"/>
<text x="219.05" y="414.67" font-family="Liberation Sans" font-size="10.5" font-weight="bold" font-style="normal" text-anchor="middle" fill="#000" textLength="23.5" lengthAdjust="spacingAndGlyphs" stroke="#000" stroke-width="0.2">IgG1</text>
<line x1="230.20" y1="470.10" x2="230.20" y2="475.34" stroke="#f00008" stroke-width="1.75" />
<line x1="222.90" y1="470.10" x2="237.50" y2="470.10" stroke="#f00008" stroke-width="1.75" />
<line x1="230.20" y1="493.06" x2="230.20" y2="504.86" stroke="#f00008" stroke-width="1.75" />
<line x1="222.90" y1="504.86" x2="237.50" y2="504.86" stroke="#f00008" stroke-width="1.75" />
<rect x="218.20" y="475.34" width="24.00" height="17.71" fill="none" stroke="#f00008" stroke-width="1.75"/>
<line x1="218.20" y1="480.59" x2="242.20" y2="480.59" stroke="#f00008" stroke-width="1.75" />
<line x1="270.10" y1="480.92" x2="270.10" y2="486.82" stroke="#f7820c" stroke-width="1.75" />
<line x1="262.80" y1="480.92" x2="277.40" y2="480.92" stroke="#f7820c" stroke-width="1.75" />
<line x1="270.10" y1="524.54" x2="270.10" y2="534.06" stroke="#f7820c" stroke-width="1.75" />
<line x1="262.80" y1="534.06" x2="277.40" y2="534.06" stroke="#f7820c" stroke-width="1.75" />
<rect x="258.10" y="486.82" width="24.00" height="37.72" fill="none" stroke="#f7820c" stroke-width="1.75"/>
<line x1="258.10" y1="516.02" x2="282.10" y2="516.02" stroke="#f7820c" stroke-width="1.75" />
<line x1="309.60" y1="447.46" x2="309.60" y2="484.86" stroke="#5f5fff" stroke-width="1.75" />
<line x1="302.30" y1="447.46" x2="316.90" y2="447.46" stroke="#5f5fff" stroke-width="1.75" />
<line x1="309.60" y1="517.98" x2="309.60" y2="526.84" stroke="#5f5fff" stroke-width="1.75" />
<line x1="302.30" y1="526.84" x2="316.90" y2="526.84" stroke="#5f5fff" stroke-width="1.75" />
<rect x="297.60" y="484.86" width="24.00" height="33.13" fill="none" stroke="#5f5fff" stroke-width="1.75"/>
<line x1="297.60" y1="509.78" x2="321.60" y2="509.78" stroke="#5f5fff" stroke-width="1.75" />
<text transform="translate(353.35,386.90) scale(0.9,1)" font-family="Liberation Sans" font-size="22.3" font-weight="bold">H</text>
<line x1="372.70" y1="566.20" x2="499.70" y2="566.20" stroke="#000" stroke-width="1.6" stroke-dasharray="1.6 1.8"/>
<line x1="369.20" y1="402.20" x2="369.20" y2="599.80" stroke="#000" stroke-width="1.6" />
<line x1="368.40" y1="599.00" x2="499.70" y2="599.00" stroke="#000" stroke-width="1.6" />
<line x1="364.70" y1="599.00" x2="369.20" y2="599.00" stroke="#000" stroke-width="1.6" />
<text x="362.10" y="602.35" font-family="Liberation Sans" font-size="10.5" font-weight="bold" font-style="normal" text-anchor="end" fill="#000" stroke="#000" stroke-width="0.35">0</text>
<line x1="364.70" y1="566.20" x2="369.20" y2="566.20" stroke="#000" stroke-width="1.6" />
<text x="362.10" y="569.55" font-family="Liberation Sans" font-size="10.5" font-weight="bold" font-style="normal" text-anchor="end" fill="#000" stroke="#000" stroke-width="0.35">1</text>
<line x1="364.70" y1="533.40" x2="369.20" y2="533.40" stroke="#000" stroke-width="1.6" />
<text x="362.10" y="536.75" font-family="Liberation Sans" font-size="10.5" font-weight="bold" font-style="normal" text-anchor="end" fill="#000" stroke="#000" stroke-width="0.35">2</text>
<line x1="364.70" y1="500.60" x2="369.20" y2="500.60" stroke="#000" stroke-width="1.6" />
<text x="362.10" y="503.95" font-family="Liberation Sans" font-size="10.5" font-weight="bold" font-style="normal" text-anchor="end" fill="#000" stroke="#000" stroke-width="0.35">3</text>
<line x1="364.70" y1="467.80" x2="369.20" y2="467.80" stroke="#000" stroke-width="1.6" />
<text x="362.10" y="471.15" font-family="Liberation Sans" font-size="10.5" font-weight="bold" font-style="normal" text-anchor="end" fill="#000" stroke="#000" stroke-width="0.35">4</text>
<line x1="364.70" y1="435.00" x2="369.20" y2="435.00" stroke="#000" stroke-width="1.6" />
<text x="362.10" y="438.35" font-family="Liberation Sans" font-size="10.5" font-weight="bold" font-style="normal" text-anchor="end" fill="#000" stroke="#000" stroke-width="0.35">5</text>
<line x1="364.70" y1="402.20" x2="369.20" y2="402.20" stroke="#000" stroke-width="1.6" />
<text x="362.10" y="405.55" font-family="Liberation Sans" font-size="10.5" font-weight="bold" font-style="normal" text-anchor="end" fill="#000" stroke="#000" stroke-width="0.35">6</text>
<line x1="394.90" y1="599.00" x2="394.90" y2="603.50" stroke="#000" stroke-width="1.6" />
<line x1="434.20" y1="599.00" x2="434.20" y2="603.50" stroke="#000" stroke-width="1.6" />
<line x1="474.00" y1="599.00" x2="474.00" y2="603.50" stroke="#000" stroke-width="1.6" />
<rect x="369.20" y="402.20" width="34.00" height="17.80" fill="#fff" stroke="#000" stroke-width="1.2"/>
<text x="386.20" y="414.56" font-family="Liberation Sans" font-size="10.5" font-weight="bold" font-style="normal" text-anchor="middle" fill="#000" textLength="29" lengthAdjust="spacingAndGlyphs" stroke="#000" stroke-width="0.2">IgG2c</text>
<line x1="394.90" y1="530.78" x2="394.90" y2="544.88" stroke="#f00008" stroke-width="1.75" />
<line x1="387.60" y1="530.78" x2="402.20" y2="530.78" stroke="#f00008" stroke-width="1.75" />
<rect x="382.90" y="544.88" width="24.00" height="21.32" fill="none" stroke="#f00008" stroke-width="1.75"/>
<line x1="382.90" y1="565.20" x2="406.90" y2="565.20" stroke="#f00008" stroke-width="1.75" />
<line x1="434.20" y1="468.78" x2="434.20" y2="486.17" stroke="#f7820c" stroke-width="1.75" />
<line x1="426.90" y1="468.78" x2="441.50" y2="468.78" stroke="#f7820c" stroke-width="1.75" />
<line x1="434.20" y1="498.30" x2="434.20" y2="517.00" stroke="#f7820c" stroke-width="1.75" />
<line x1="426.90" y1="517.00" x2="441.50" y2="517.00" stroke="#f7820c" stroke-width="1.75" />
<rect x="422.20" y="486.17" width="24.00" height="12.14" fill="none" stroke="#f7820c" stroke-width="1.75"/>
<line x1="422.20" y1="498.30" x2="446.20" y2="498.30" stroke="#f7820c" stroke-width="1.75" />
<line x1="474.00" y1="459.60" x2="474.00" y2="473.70" stroke="#5f5fff" stroke-width="1.75" />
<line x1="466.70" y1="459.60" x2="481.30" y2="459.60" stroke="#5f5fff" stroke-width="1.75" />
<line x1="474.00" y1="496.34" x2="474.00" y2="501.58" stroke="#5f5fff" stroke-width="1.75" />
<line x1="466.70" y1="501.58" x2="481.30" y2="501.58" stroke="#5f5fff" stroke-width="1.75" />
<rect x="462.00" y="473.70" width="24.00" height="22.63" fill="none" stroke="#5f5fff" stroke-width="1.75"/>
<line x1="462.00" y1="480.26" x2="486.00" y2="480.26" stroke="#5f5fff" stroke-width="1.75" />
<path d="M386.70,504.60 V436.70 H474.60 V445.60" stroke="#5f5fff" stroke-width="1.3" fill="none" />
<path d="M394.90,504.60 V453.80 H434.80 V460.30" stroke="#f7820c" stroke-width="1.3" fill="none" />
<path d="M423.25,425.80 V432.80 M420.46,427.69 L426.04,430.91 M420.46,430.91 L426.04,427.69 " stroke="#000" stroke-width="1.61" fill="none" stroke-linecap="butt"/>
<circle cx="423.25" cy="429.30" r="1.82" fill="#000"/>
<path d="M430.90,425.80 V432.80 M428.11,427.69 L433.69,430.91 M428.11,430.91 L433.69,427.69 " stroke="#000" stroke-width="1.61" fill="none" stroke-linecap="butt"/>
<circle cx="430.90" cy="429.30" r="1.82" fill="#000"/>
<path d="M438.55,425.80 V432.80 M435.76,427.69 L441.34,430.91 M435.76,430.91 L441.34,427.69 " stroke="#000" stroke-width="1.61" fill="none" stroke-linecap="butt"/>
<circle cx="438.55" cy="429.30" r="1.82" fill="#000"/>
<path d="M411.18,442.70 V449.70 M408.39,444.59 L413.96,447.81 M408.39,447.81 L413.96,444.59 " stroke="#000" stroke-width="1.61" fill="none" stroke-linecap="butt"/>
<circle cx="411.18" cy="446.20" r="1.82" fill="#000"/>
<path d="M418.82,442.70 V449.70 M416.04,444.59 L421.61,447.81 M416.04,447.81 L421.61,444.59 " stroke="#000" stroke-width="1.61" fill="none" stroke-linecap="butt"/>
<circle cx="418.82" cy="446.20" r="1.82" fill="#000"/>
<text transform="translate(528.65,385.40) scale(0.9,1)" font-family="Liberation Sans" font-size="22.3" font-weight="bold">I</text>
<line x1="538.00" y1="534.10" x2="665.00" y2="534.10" stroke="#000" stroke-width="1.6" stroke-dasharray="1.6 1.8"/>
<line x1="534.50" y1="402.70" x2="534.50" y2="600.60" stroke="#000" stroke-width="1.6" />
<line x1="533.70" y1="599.80" x2="665.00" y2="599.80" stroke="#000" stroke-width="1.6" />
<line x1="530.00" y1="402.70" x2="534.50" y2="402.70" stroke="#000" stroke-width="1.6" />
<text x="527.40" y="406.05" font-family="Liberation Sans" font-size="10.5" font-weight="bold" font-style="normal" text-anchor="end" fill="#000" stroke="#000" stroke-width="0.35">6</text>
<line x1="530.00" y1="446.50" x2="534.50" y2="446.50" stroke="#000" stroke-width="1.6" />
<text x="527.40" y="449.85" font-family="Liberation Sans" font-size="10.5" font-weight="bold" font-style="normal" text-anchor="end" fill="#000" stroke="#000" stroke-width="0.35">4</text>
<line x1="530.00" y1="490.30" x2="534.50" y2="490.30" stroke="#000" stroke-width="1.6" />
<text x="527.40" y="493.65" font-family="Liberation Sans" font-size="10.5" font-weight="bold" font-style="normal" text-anchor="end" fill="#000" stroke="#000" stroke-width="0.35">2</text>
<line x1="530.00" y1="534.10" x2="534.50" y2="534.10" stroke="#000" stroke-width="1.6" />
<text x="527.40" y="537.45" font-family="Liberation Sans" font-size="10.5" font-weight="bold" font-style="normal" text-anchor="end" fill="#000" stroke="#000" stroke-width="0.35">0</text>
<line x1="530.00" y1="577.90" x2="534.50" y2="577.90" stroke="#000" stroke-width="1.6" />
<text x="527.40" y="581.25" font-family="Liberation Sans" font-size="10.5" font-weight="bold" font-style="normal" text-anchor="end" fill="#000" stroke="#000" stroke-width="0.35">-2</text>
<line x1="560.50" y1="599.80" x2="560.50" y2="604.30" stroke="#000" stroke-width="1.6" />
<line x1="600.30" y1="599.80" x2="600.30" y2="604.30" stroke="#000" stroke-width="1.6" />
<line x1="639.60" y1="599.80" x2="639.60" y2="604.30" stroke="#000" stroke-width="1.6" />
<rect x="534.50" y="402.90" width="88.00" height="17.90" fill="#fff" stroke="#000" stroke-width="1.2"/>
<text x="578.50" y="415.31" font-family="Liberation Sans" font-size="10.5" font-weight="bold" font-style="normal" text-anchor="middle" fill="#000" textLength="82.6" lengthAdjust="spacingAndGlyphs" stroke="#000" stroke-width="0.2">IgG2c/IgG1 ratio</text>
<line x1="560.50" y1="554.25" x2="560.50" y2="567.39" stroke="#f00008" stroke-width="1.75" />
<line x1="553.20" y1="554.25" x2="567.80" y2="554.25" stroke="#f00008" stroke-width="1.75" />
<line x1="560.50" y1="592.13" x2="560.50" y2="596.95" stroke="#f00008" stroke-width="1.75" />
<line x1="553.20" y1="596.95" x2="567.80" y2="596.95" stroke="#f00008" stroke-width="1.75" />
<rect x="548.50" y="567.39" width="24.00" height="24.75" fill="none" stroke="#f00008" stroke-width="1.75"/>
<line x1="548.50" y1="587.10" x2="572.50" y2="587.10" stroke="#f00008" stroke-width="1.75" />
<line x1="600.30" y1="503.00" x2="600.30" y2="512.86" stroke="#f7820c" stroke-width="1.75" />
<line x1="593.00" y1="503.00" x2="607.60" y2="503.00" stroke="#f7820c" stroke-width="1.75" />
<line x1="600.30" y1="541.98" x2="600.30" y2="555.56" stroke="#f7820c" stroke-width="1.75" />
<line x1="593.00" y1="555.56" x2="607.60" y2="555.56" stroke="#f7820c" stroke-width="1.75" />
<rect x="588.30" y="512.86" width="24.00" height="29.13" fill="none" stroke="#f7820c" stroke-width="1.75"/>
<line x1="588.30" y1="520.74" x2="612.30" y2="520.74" stroke="#f7820c" stroke-width="1.75" />
<line x1="639.60" y1="508.26" x2="639.60" y2="509.57" stroke="#5f5fff" stroke-width="1.75" />
<line x1="632.30" y1="508.26" x2="646.90" y2="508.26" stroke="#5f5fff" stroke-width="1.75" />
<line x1="639.60" y1="516.36" x2="639.60" y2="541.98" stroke="#5f5fff" stroke-width="1.75" />
<line x1="632.30" y1="541.98" x2="646.90" y2="541.98" stroke="#5f5fff" stroke-width="1.75" />
<rect x="627.60" y="509.57" width="24.00" height="6.79" fill="none" stroke="#5f5fff" stroke-width="1.75"/>
<line x1="627.60" y1="510.89" x2="651.60" y2="510.89" stroke="#5f5fff" stroke-width="1.75" />
<path d="M551.60,518.50 V450.90 H639.60 V459.40" stroke="#5f5fff" stroke-width="1.3" fill="none" />
<path d="M560.50,518.50 V467.70 H600.30 V474.50" stroke="#f7820c" stroke-width="1.3" fill="none" />
<path d="M588.25,439.70 V446.70 M585.46,441.59 L591.04,444.81 M585.46,444.81 L591.04,441.59 " stroke="#000" stroke-width="1.61" fill="none" stroke-linecap="butt"/>
<circle cx="588.25" cy="443.20" r="1.82" fill="#000"/>
<path d="M595.90,439.70 V446.70 M593.11,441.59 L598.69,444.81 M593.11,444.81 L598.69,441.59 " stroke="#000" stroke-width="1.61" fill="none" stroke-linecap="butt"/>
<circle cx="595.90" cy="443.20" r="1.82" fill="#000"/>
<path d="M603.55,439.70 V446.70 M600.76,441.59 L606.34,444.81 M600.76,444.81 L606.34,441.59 " stroke="#000" stroke-width="1.61" fill="none" stroke-linecap="butt"/>
<circle cx="603.55" cy="443.20" r="1.82" fill="#000"/>
<path d="M572.65,456.20 V463.20 M569.86,458.09 L575.44,461.31 M569.86,461.31 L575.44,458.09 " stroke="#000" stroke-width="1.61" fill="none" stroke-linecap="butt"/>
<circle cx="572.65" cy="459.70" r="1.82" fill="#000"/>
<path d="M580.30,456.20 V463.20 M577.51,458.09 L583.09,461.31 M577.51,461.31 L583.09,458.09 " stroke="#000" stroke-width="1.61" fill="none" stroke-linecap="butt"/>
<circle cx="580.30" cy="459.70" r="1.82" fill="#000"/>
<path d="M587.95,456.20 V463.20 M585.16,458.09 L590.74,461.31 M585.16,461.31 L590.74,458.09 " stroke="#000" stroke-width="1.61" fill="none" stroke-linecap="butt"/>
<circle cx="587.95" cy="459.70" r="1.82" fill="#000"/>
<text x="665.00" y="490.30" font-family="Liberation Sans" font-size="8.3" font-weight="normal" font-style="normal" text-anchor="middle" fill="#000" textLength="37.5" lengthAdjust="spacingAndGlyphs" stroke="#000" stroke-width="0.15">Th1 biased</text>
<text x="663.20" y="582.00" font-family="Liberation Sans" font-size="8.3" font-weight="normal" font-style="normal" text-anchor="middle" fill="#000" textLength="36.8" lengthAdjust="spacingAndGlyphs" stroke="#000" stroke-width="0.15">Th2 biased</text>
<line x1="664.40" y1="528.80" x2="664.40" y2="502.00" stroke="#000" stroke-width="1.4" />
<path d="M660.9,504 L664.4,495.8 L667.9,504 Z" fill="#000"/>
<line x1="664.40" y1="538.50" x2="664.40" y2="565.00" stroke="#000" stroke-width="1.4" />
<path d="M660.9,563.6 L664.4,571.8 L667.9,563.6 Z" fill="#000"/>
<text transform="translate(17.00,635.30) scale(0.9,1)" font-family="Liberation Sans" font-size="22.3" font-weight="bold">J</text>
<line x1="35.30" y1="651.20" x2="35.30" y2="811.30" stroke="#3a3a3a" stroke-width="1.4" />
<line x1="34.60" y1="810.60" x2="275.00" y2="810.60" stroke="#3a3a3a" stroke-width="1.4" />
<line x1="30.80" y1="810.60" x2="35.30" y2="810.60" stroke="#3a3a3a" stroke-width="1.4" />
<text x="29.25" y="813.95" font-family="Liberation Sans" font-size="10.5" font-weight="bold" font-style="normal" text-anchor="end" fill="#000" stroke="#000" stroke-width="0.35">0.0</text>
<line x1="30.80" y1="770.75" x2="35.30" y2="770.75" stroke="#3a3a3a" stroke-width="1.4" />
<text x="29.25" y="774.10" font-family="Liberation Sans" font-size="10.5" font-weight="bold" font-style="normal" text-anchor="end" fill="#000" stroke="#000" stroke-width="0.35">0.1</text>
<line x1="30.80" y1="730.90" x2="35.30" y2="730.90" stroke="#3a3a3a" stroke-width="1.4" />
<text x="29.25" y="734.25" font-family="Liberation Sans" font-size="10.5" font-weight="bold" font-style="normal" text-anchor="end" fill="#000" stroke="#000" stroke-width="0.35">0.2</text>
<line x1="30.80" y1="691.05" x2="35.30" y2="691.05" stroke="#3a3a3a" stroke-width="1.4" />
<text x="29.25" y="694.40" font-family="Liberation Sans" font-size="10.5" font-weight="bold" font-style="normal" text-anchor="end" fill="#000" stroke="#000" stroke-width="0.35">0.3</text>
<line x1="30.80" y1="651.20" x2="35.30" y2="651.20" stroke="#3a3a3a" stroke-width="1.4" />
<text x="29.25" y="654.55" font-family="Liberation Sans" font-size="10.5" font-weight="bold" font-style="normal" text-anchor="end" fill="#000" stroke="#000" stroke-width="0.35">0.4</text>
<line x1="32.80" y1="790.68" x2="35.30" y2="790.68" stroke="#3a3a3a" stroke-width="1.1199999999999999" />
<line x1="32.80" y1="750.83" x2="35.30" y2="750.83" stroke="#3a3a3a" stroke-width="1.1199999999999999" />
<line x1="32.80" y1="710.98" x2="35.30" y2="710.98" stroke="#3a3a3a" stroke-width="1.1199999999999999" />
<line x1="32.80" y1="671.12" x2="35.30" y2="671.12" stroke="#3a3a3a" stroke-width="1.1199999999999999" />
<line x1="72.80" y1="810.60" x2="72.80" y2="815.10" stroke="#3a3a3a" stroke-width="1.4" />
<line x1="155.20" y1="810.60" x2="155.20" y2="815.10" stroke="#3a3a3a" stroke-width="1.4" />
<line x1="237.30" y1="810.60" x2="237.30" y2="815.10" stroke="#3a3a3a" stroke-width="1.4" />
<rect x="35.30" y="651.20" width="24.60" height="16.10" fill="#fff" stroke="#000" stroke-width="1.2"/>
<text x="47.60" y="662.72" font-family="Liberation Sans" font-size="10.5" font-weight="bold" font-style="normal" text-anchor="middle" fill="#000" textLength="20.2" lengthAdjust="spacingAndGlyphs" stroke="#000" stroke-width="0.2">FHA</text>
<line x1="50.30" y1="770.75" x2="50.30" y2="791.87" stroke="#f00008" stroke-width="1.75" />
<line x1="46.10" y1="770.75" x2="54.50" y2="770.75" stroke="#f00008" stroke-width="1.75" />
<line x1="50.30" y1="805.42" x2="50.30" y2="805.82" stroke="#f00008" stroke-width="1.75" />
<line x1="46.10" y1="805.82" x2="54.50" y2="805.82" stroke="#f00008" stroke-width="1.75" />
<rect x="43.80" y="791.87" width="13.00" height="13.55" fill="none" stroke="#f00008" stroke-width="1.75"/>
<line x1="43.80" y1="796.65" x2="56.80" y2="796.65" stroke="#f00008" stroke-width="1.75" />
<line x1="72.80" y1="706.99" x2="72.80" y2="722.93" stroke="#f7820c" stroke-width="1.75" />
<line x1="68.60" y1="706.99" x2="77.00" y2="706.99" stroke="#f7820c" stroke-width="1.75" />
<line x1="72.80" y1="779.92" x2="72.80" y2="798.25" stroke="#f7820c" stroke-width="1.75" />
<line x1="68.60" y1="798.25" x2="77.00" y2="798.25" stroke="#f7820c" stroke-width="1.75" />
<rect x="66.30" y="722.93" width="13.00" height="56.99" fill="none" stroke="#f7820c" stroke-width="1.75"/>
<line x1="66.30" y1="746.84" x2="79.30" y2="746.84" stroke="#f7820c" stroke-width="1.75" />
<line x1="95.30" y1="710.98" x2="95.30" y2="735.68" stroke="#5f5fff" stroke-width="1.75" />
<line x1="91.10" y1="710.98" x2="99.50" y2="710.98" stroke="#5f5fff" stroke-width="1.75" />
<line x1="95.30" y1="789.48" x2="95.30" y2="794.26" stroke="#5f5fff" stroke-width="1.75" />
<line x1="91.10" y1="794.26" x2="99.50" y2="794.26" stroke="#5f5fff" stroke-width="1.75" />
<rect x="88.80" y="735.68" width="13.00" height="53.80" fill="none" stroke="#5f5fff" stroke-width="1.75"/>
<line x1="88.80" y1="758.80" x2="101.80" y2="758.80" stroke="#5f5fff" stroke-width="1.75" />
<line x1="132.70" y1="770.75" x2="132.70" y2="781.91" stroke="#f00008" stroke-width="1.75" />
<line x1="128.50" y1="770.75" x2="136.90" y2="770.75" stroke="#f00008" stroke-width="1.75" />
<line x1="132.70" y1="799.44" x2="132.70" y2="806.22" stroke="#f00008" stroke-width="1.75" />
<line x1="128.50" y1="806.22" x2="136.90" y2="806.22" stroke="#f00008" stroke-width="1.75" />
<rect x="126.20" y="781.91" width="13.00" height="17.53" fill="none" stroke="#f00008" stroke-width="1.75"/>
<line x1="126.20" y1="798.25" x2="139.20" y2="798.25" stroke="#f00008" stroke-width="1.75" />
<line x1="155.10" y1="738.87" x2="155.10" y2="761.19" stroke="#f7820c" stroke-width="1.75" />
<line x1="150.90" y1="738.87" x2="159.30" y2="738.87" stroke="#f7820c" stroke-width="1.75" />
<line x1="155.10" y1="796.65" x2="155.10" y2="802.63" stroke="#f7820c" stroke-width="1.75" />
<line x1="150.90" y1="802.63" x2="159.30" y2="802.63" stroke="#f7820c" stroke-width="1.75" />
<rect x="148.60" y="761.19" width="13.00" height="35.47" fill="none" stroke="#f7820c" stroke-width="1.75"/>
<line x1="148.60" y1="778.32" x2="161.60" y2="778.32" stroke="#f7820c" stroke-width="1.75" />
<line x1="177.30" y1="762.78" x2="177.30" y2="796.25" stroke="#5f5fff" stroke-width="1.75" />
<line x1="173.10" y1="762.78" x2="181.50" y2="762.78" stroke="#5f5fff" stroke-width="1.75" />
<rect x="170.80" y="796.25" width="13.00" height="14.35" fill="none" stroke="#5f5fff" stroke-width="1.75"/>
<line x1="170.80" y1="804.22" x2="183.80" y2="804.22" stroke="#5f5fff" stroke-width="1.75" />
<line x1="215.10" y1="795.06" x2="215.10" y2="799.44" stroke="#f00008" stroke-width="1.75" />
<line x1="210.90" y1="795.06" x2="219.30" y2="795.06" stroke="#f00008" stroke-width="1.75" />
<line x1="215.10" y1="807.81" x2="215.10" y2="810.60" stroke="#f00008" stroke-width="1.75" />
<line x1="210.90" y1="810.60" x2="219.30" y2="810.60" stroke="#f00008" stroke-width="1.75" />
<rect x="208.60" y="799.44" width="13.00" height="8.37" fill="none" stroke="#f00008" stroke-width="1.75"/>
<line x1="208.60" y1="805.82" x2="221.60" y2="805.82" stroke="#f00008" stroke-width="1.75" />
<line x1="237.50" y1="762.78" x2="237.50" y2="783.50" stroke="#f7820c" stroke-width="1.75" />
<line x1="233.30" y1="762.78" x2="241.70" y2="762.78" stroke="#f7820c" stroke-width="1.75" />
<line x1="237.50" y1="801.83" x2="237.50" y2="804.62" stroke="#f7820c" stroke-width="1.75" />
<line x1="233.30" y1="804.62" x2="241.70" y2="804.62" stroke="#f7820c" stroke-width="1.75" />
<rect x="231.00" y="783.50" width="13.00" height="18.33" fill="none" stroke="#f7820c" stroke-width="1.75"/>
<line x1="231.00" y1="796.65" x2="244.00" y2="796.65" stroke="#f7820c" stroke-width="1.75" />
<line x1="259.80" y1="785.89" x2="259.80" y2="787.89" stroke="#5f5fff" stroke-width="1.75" />
<line x1="255.60" y1="785.89" x2="264.00" y2="785.89" stroke="#5f5fff" stroke-width="1.75" />
<line x1="259.80" y1="799.84" x2="259.80" y2="804.62" stroke="#5f5fff" stroke-width="1.75" />
<line x1="255.60" y1="804.62" x2="264.00" y2="804.62" stroke="#5f5fff" stroke-width="1.75" />
<rect x="253.30" y="787.89" width="13.00" height="11.96" fill="none" stroke="#5f5fff" stroke-width="1.75"/>
<line x1="253.30" y1="795.06" x2="266.30" y2="795.06" stroke="#5f5fff" stroke-width="1.75" />
<path d="M46.40,685.60 V679.20 H93.60 V685.60" stroke="#5f5fff" stroke-width="1.3" fill="none" />
<path d="M46.40,702.80 V696.40 H72.80 V702.80" stroke="#f7820c" stroke-width="1.3" fill="none" />
<path d="M70.20,668.60 V675.40 M67.49,670.44 L72.91,673.56 M67.49,673.56 L72.91,670.44 " stroke="#000" stroke-width="1.56" fill="none" stroke-linecap="butt"/>
<circle cx="70.20" cy="672.00" r="1.77" fill="#000"/>
<path d="M56.45,685.70 V692.50 M53.74,687.54 L59.16,690.66 M53.74,690.66 L59.16,687.54 " stroke="#000" stroke-width="1.56" fill="none" stroke-linecap="butt"/>
<circle cx="56.45" cy="689.10" r="1.77" fill="#000"/>
<path d="M63.05,685.70 V692.50 M60.34,687.54 L65.76,690.66 M60.34,690.66 L65.76,687.54 " stroke="#000" stroke-width="1.56" fill="none" stroke-linecap="butt"/>
<circle cx="63.05" cy="689.10" r="1.77" fill="#000"/>
<path d="M129.10,728.10 V722.40 H155.20 V728.10" stroke="#f7820c" stroke-width="1.3" fill="none" />
<path d="M141.80,712.30 V719.10 M139.09,714.14 L144.51,717.26 M139.09,717.26 L144.51,714.14 " stroke="#000" stroke-width="1.56" fill="none" stroke-linecap="butt"/>
<circle cx="141.80" cy="715.70" r="1.77" fill="#000"/>
<path d="M210.50,735.50 V729.30 H257.90 V735.50" stroke="#5f5fff" stroke-width="1.3" fill="none" />
<path d="M210.50,752.90 V747.20 H237.30 V752.90" stroke="#f7820c" stroke-width="1.3" fill="none" />
<path d="M234.10,719.70 V726.50 M231.39,721.54 L236.81,724.66 M231.39,724.66 L236.81,721.54 " stroke="#000" stroke-width="1.56" fill="none" stroke-linecap="butt"/>
<circle cx="234.10" cy="723.10" r="1.77" fill="#000"/>
<path d="M224.10,737.10 V743.90 M221.39,738.94 L226.81,742.06 M221.39,742.06 L226.81,738.94 " stroke="#000" stroke-width="1.56" fill="none" stroke-linecap="butt"/>
<circle cx="224.10" cy="740.50" r="1.77" fill="#000"/>
<text x="72.30" y="826.50" font-family="Liberation Sans" font-size="10" font-weight="bold" font-style="normal" text-anchor="middle" fill="#000" textLength="21.6" lengthAdjust="spacingAndGlyphs" >IFN&#947;</text>
<text x="155.20" y="826.50" font-family="Liberation Sans" font-size="10" font-weight="bold" font-style="normal" text-anchor="middle" fill="#000" textLength="27.5" lengthAdjust="spacingAndGlyphs" >IL-4/5</text>
<text x="237.80" y="826.50" font-family="Liberation Sans" font-size="10" font-weight="bold" font-style="normal" text-anchor="middle" fill="#000" textLength="23" lengthAdjust="spacingAndGlyphs" >IL-17</text>
<text transform="translate(11.60,728.60) rotate(-90)" font-family="Liberation Sans" font-size="12" font-weight="bold" text-anchor="middle" textLength="123.2" lengthAdjust="spacingAndGlyphs">% of CD44+ CD4+ Cells</text>
<text transform="translate(293.15,635.40) scale(0.9,1)" font-family="Liberation Sans" font-size="22.3" font-weight="bold">K</text>
<line x1="313.20" y1="651.35" x2="313.20" y2="810.90" stroke="#3a3a3a" stroke-width="1.4" />
<line x1="312.50" y1="810.20" x2="552.70" y2="810.20" stroke="#3a3a3a" stroke-width="1.4" />
<line x1="308.70" y1="810.20" x2="313.20" y2="810.20" stroke="#3a3a3a" stroke-width="1.4" />
<text x="307.15" y="813.55" font-family="Liberation Sans" font-size="10.5" font-weight="bold" font-style="normal" text-anchor="end" fill="#000" stroke="#000" stroke-width="0.35">0.00</text>
<line x1="308.70" y1="757.25" x2="313.20" y2="757.25" stroke="#3a3a3a" stroke-width="1.4" />
<text x="307.15" y="760.60" font-family="Liberation Sans" font-size="10.5" font-weight="bold" font-style="normal" text-anchor="end" fill="#000" stroke="#000" stroke-width="0.35">0.05</text>
<line x1="308.70" y1="704.30" x2="313.20" y2="704.30" stroke="#3a3a3a" stroke-width="1.4" />
<text x="307.15" y="707.65" font-family="Liberation Sans" font-size="10.5" font-weight="bold" font-style="normal" text-anchor="end" fill="#000" stroke="#000" stroke-width="0.35">0.10</text>
<line x1="308.70" y1="651.35" x2="313.20" y2="651.35" stroke="#3a3a3a" stroke-width="1.4" />
<text x="307.15" y="654.70" font-family="Liberation Sans" font-size="10.5" font-weight="bold" font-style="normal" text-anchor="end" fill="#000" stroke="#000" stroke-width="0.35">0.15</text>
<line x1="310.70" y1="783.73" x2="313.20" y2="783.73" stroke="#3a3a3a" stroke-width="1.1199999999999999" />
<line x1="310.70" y1="730.78" x2="313.20" y2="730.78" stroke="#3a3a3a" stroke-width="1.1199999999999999" />
<line x1="310.70" y1="677.83" x2="313.20" y2="677.83" stroke="#3a3a3a" stroke-width="1.1199999999999999" />
<line x1="350.60" y1="810.20" x2="350.60" y2="814.70" stroke="#3a3a3a" stroke-width="1.4" />
<line x1="432.00" y1="810.20" x2="432.00" y2="814.70" stroke="#3a3a3a" stroke-width="1.4" />
<line x1="515.30" y1="810.20" x2="515.30" y2="814.70" stroke="#3a3a3a" stroke-width="1.4" />
<rect x="313.20" y="651.35" width="25.40" height="16.40" fill="#fff" stroke="#000" stroke-width="1.2"/>
<text x="325.90" y="663.02" font-family="Liberation Sans" font-size="10.5" font-weight="bold" font-style="normal" text-anchor="middle" fill="#000" textLength="20.4" lengthAdjust="spacingAndGlyphs" stroke="#000" stroke-width="0.2">PRN</text>
<line x1="328.00" y1="795.37" x2="328.00" y2="803.85" stroke="#f00008" stroke-width="1.75" />
<line x1="323.80" y1="795.37" x2="332.20" y2="795.37" stroke="#f00008" stroke-width="1.75" />
<rect x="321.50" y="803.85" width="13.00" height="6.35" fill="none" stroke="#f00008" stroke-width="1.75"/>
<line x1="321.50" y1="809.20" x2="334.50" y2="809.20" stroke="#f00008" stroke-width="1.75" />
<line x1="350.60" y1="739.25" x2="350.60" y2="744.54" stroke="#f7820c" stroke-width="1.75" />
<line x1="346.40" y1="739.25" x2="354.80" y2="739.25" stroke="#f7820c" stroke-width="1.75" />
<line x1="350.60" y1="786.37" x2="350.60" y2="798.02" stroke="#f7820c" stroke-width="1.75" />
<line x1="346.40" y1="798.02" x2="354.80" y2="798.02" stroke="#f7820c" stroke-width="1.75" />
<rect x="344.10" y="744.54" width="13.00" height="41.83" fill="none" stroke="#f7820c" stroke-width="1.75"/>
<line x1="344.10" y1="771.02" x2="357.10" y2="771.02" stroke="#f7820c" stroke-width="1.75" />
<line x1="373.10" y1="724.42" x2="373.10" y2="745.60" stroke="#5f5fff" stroke-width="1.75" />
<line x1="368.90" y1="724.42" x2="377.30" y2="724.42" stroke="#5f5fff" stroke-width="1.75" />
<line x1="373.10" y1="797.49" x2="373.10" y2="810.20" stroke="#5f5fff" stroke-width="1.75" />
<line x1="368.90" y1="810.20" x2="377.30" y2="810.20" stroke="#5f5fff" stroke-width="1.75" />
<rect x="366.60" y="745.60" width="13.00" height="51.89" fill="none" stroke="#5f5fff" stroke-width="1.75"/>
<line x1="366.60" y1="781.08" x2="379.60" y2="781.08" stroke="#5f5fff" stroke-width="1.75" />
<line x1="410.40" y1="794.84" x2="410.40" y2="797.49" stroke="#f00008" stroke-width="1.75" />
<line x1="406.20" y1="794.84" x2="414.60" y2="794.84" stroke="#f00008" stroke-width="1.75" />
<rect x="403.90" y="797.49" width="13.00" height="12.71" fill="none" stroke="#f00008" stroke-width="1.75"/>
<line x1="403.90" y1="798.55" x2="416.90" y2="798.55" stroke="#f00008" stroke-width="1.75" />
<line x1="432.60" y1="793.26" x2="432.60" y2="810.20" stroke="#f7820c" stroke-width="1.75" />
<line x1="428.40" y1="793.26" x2="436.80" y2="793.26" stroke="#f7820c" stroke-width="1.75" />
<rect x="426.10" y="810.20" width="13.00" height="0.01" fill="none" stroke="#f7820c" stroke-width="1.75"/>
<line x1="426.10" y1="809.20" x2="439.10" y2="809.20" stroke="#f7820c" stroke-width="1.75" />
<line x1="455.10" y1="755.13" x2="455.10" y2="794.32" stroke="#5f5fff" stroke-width="1.75" />
<line x1="450.90" y1="755.13" x2="459.30" y2="755.13" stroke="#5f5fff" stroke-width="1.75" />
<rect x="448.60" y="794.32" width="13.00" height="15.88" fill="none" stroke="#5f5fff" stroke-width="1.75"/>
<line x1="448.60" y1="809.20" x2="461.60" y2="809.20" stroke="#5f5fff" stroke-width="1.75" />
<line x1="492.60" y1="749.84" x2="492.60" y2="756.72" stroke="#f00008" stroke-width="1.75" />
<line x1="488.40" y1="749.84" x2="496.80" y2="749.84" stroke="#f00008" stroke-width="1.75" />
<line x1="492.60" y1="789.55" x2="492.60" y2="798.87" stroke="#f00008" stroke-width="1.75" />
<line x1="488.40" y1="798.87" x2="496.80" y2="798.87" stroke="#f00008" stroke-width="1.75" />
<rect x="486.10" y="756.72" width="13.00" height="32.83" fill="none" stroke="#f00008" stroke-width="1.75"/>
<line x1="486.10" y1="765.19" x2="499.10" y2="765.19" stroke="#f00008" stroke-width="1.75" />
<line x1="515.50" y1="721.77" x2="515.50" y2="725.48" stroke="#f7820c" stroke-width="1.75" />
<line x1="511.30" y1="721.77" x2="519.70" y2="721.77" stroke="#f7820c" stroke-width="1.75" />
<line x1="515.50" y1="781.61" x2="515.50" y2="793.79" stroke="#f7820c" stroke-width="1.75" />
<line x1="511.30" y1="793.79" x2="519.70" y2="793.79" stroke="#f7820c" stroke-width="1.75" />
<rect x="509.00" y="725.48" width="13.00" height="56.13" fill="none" stroke="#f7820c" stroke-width="1.75"/>
<line x1="509.00" y1="772.08" x2="522.00" y2="772.08" stroke="#f7820c" stroke-width="1.75" />
<line x1="537.50" y1="704.51" x2="537.50" y2="735.01" stroke="#5f5fff" stroke-width="1.75" />
<line x1="533.30" y1="704.51" x2="541.70" y2="704.51" stroke="#5f5fff" stroke-width="1.75" />
<line x1="537.50" y1="801.41" x2="537.50" y2="810.20" stroke="#5f5fff" stroke-width="1.75" />
<line x1="533.30" y1="810.20" x2="541.70" y2="810.20" stroke="#5f5fff" stroke-width="1.75" />
<rect x="531.00" y="735.01" width="13.00" height="66.40" fill="none" stroke="#5f5fff" stroke-width="1.75"/>
<line x1="531.00" y1="765.19" x2="544.00" y2="765.19" stroke="#5f5fff" stroke-width="1.75" />
<path d="M324.00,708.60 V702.20 H371.60 V708.60" stroke="#5f5fff" stroke-width="1.3" fill="none" />
<path d="M324.00,726.10 V719.70 H350.60 V726.10" stroke="#f7820c" stroke-width="1.3" fill="none" />
<path d="M348.00,691.50 V698.30 M345.29,693.34 L350.71,696.46 M345.29,696.46 L350.71,693.34 " stroke="#000" stroke-width="1.56" fill="none" stroke-linecap="butt"/>
<circle cx="348.00" cy="694.90" r="1.77" fill="#000"/>
<path d="M334.40,709.00 V715.80 M331.69,710.84 L337.11,713.96 M331.69,713.96 L337.11,710.84 " stroke="#000" stroke-width="1.56" fill="none" stroke-linecap="butt"/>
<circle cx="334.40" cy="712.40" r="1.77" fill="#000"/>
<path d="M341.00,709.00 V715.80 M338.29,710.84 L343.71,713.96 M338.29,713.96 L343.71,710.84 " stroke="#000" stroke-width="1.56" fill="none" stroke-linecap="butt"/>
<circle cx="341.00" cy="712.40" r="1.77" fill="#000"/>
<text x="350.30" y="826.50" font-family="Liberation Sans" font-size="10" font-weight="bold" font-style="normal" text-anchor="middle" fill="#000" textLength="21.6" lengthAdjust="spacingAndGlyphs" >IFN&#947;</text>
<text x="433.00" y="826.50" font-family="Liberation Sans" font-size="10" font-weight="bold" font-style="normal" text-anchor="middle" fill="#000" textLength="27.5" lengthAdjust="spacingAndGlyphs" >IL-4/5</text>
<text x="515.10" y="826.50" font-family="Liberation Sans" font-size="10" font-weight="bold" font-style="normal" text-anchor="middle" fill="#000" textLength="23" lengthAdjust="spacingAndGlyphs" >IL-17</text>
<text transform="translate(550.95,640.80) scale(0.9,1)" font-family="Liberation Sans" font-size="22.3" font-weight="bold">L</text>
<line x1="569.80" y1="654.38" x2="569.80" y2="811.00" stroke="#3a3a3a" stroke-width="1.4" />
<line x1="569.10" y1="810.30" x2="674.30" y2="810.30" stroke="#3a3a3a" stroke-width="1.4" />
<text x="565.00" y="813.65" font-family="Liberation Sans" font-size="10.5" font-weight="bold" font-style="normal" text-anchor="end" fill="#000" stroke="#000" stroke-width="0.35">0</text>
<line x1="565.30" y1="771.32" x2="569.80" y2="771.32" stroke="#3a3a3a" stroke-width="1.4" />
<text x="565.00" y="774.67" font-family="Liberation Sans" font-size="10.5" font-weight="bold" font-style="normal" text-anchor="end" fill="#000" stroke="#000" stroke-width="0.35">2</text>
<line x1="565.30" y1="732.34" x2="569.80" y2="732.34" stroke="#3a3a3a" stroke-width="1.4" />
<text x="565.00" y="735.69" font-family="Liberation Sans" font-size="10.5" font-weight="bold" font-style="normal" text-anchor="end" fill="#000" stroke="#000" stroke-width="0.35">4</text>
<line x1="565.30" y1="693.36" x2="569.80" y2="693.36" stroke="#3a3a3a" stroke-width="1.4" />
<text x="565.00" y="696.71" font-family="Liberation Sans" font-size="10.5" font-weight="bold" font-style="normal" text-anchor="end" fill="#000" stroke="#000" stroke-width="0.35">6</text>
<line x1="565.30" y1="654.38" x2="569.80" y2="654.38" stroke="#3a3a3a" stroke-width="1.4" />
<text x="565.00" y="657.73" font-family="Liberation Sans" font-size="10.5" font-weight="bold" font-style="normal" text-anchor="end" fill="#000" stroke="#000" stroke-width="0.35">8</text>
<rect x="569.80" y="654.38" width="80.80" height="15.60" fill="#fff" stroke="#000" stroke-width="1.2"/>
<text x="610.20" y="665.02" font-family="Liberation Sans" font-size="8.6" font-weight="bold" font-style="normal" text-anchor="middle" fill="#000" textLength="76.2" lengthAdjust="spacingAndGlyphs" stroke="#000" stroke-width="0.2">Fold Change (IFN&#947;)</text>
<path d="M578.50,810.3 V756.53 H589.40 V810.3" stroke="#f7820c" stroke-width="1.6" fill="none" />
<path d="M599.20,810.3 V771.15 H610.20 V810.3" stroke="#5f5fff" stroke-width="1.6" fill="none" />
<path d="M634.10,810.3 V682.47 H645.40 V810.3" stroke="#f7820c" stroke-width="1.6" fill="none" />
<path d="M655.00,810.3 V694.55 H666.20 V810.3" stroke="#5f5fff" stroke-width="1.6" fill="none" />
<line x1="594.40" y1="810.30" x2="594.40" y2="813.00" stroke="#3a3a3a" stroke-width="1.2" />
<line x1="650.20" y1="810.30" x2="650.20" y2="813.00" stroke="#3a3a3a" stroke-width="1.2" />
<line x1="621.70" y1="676.90" x2="621.70" y2="810.00" stroke="#000" stroke-width="1.1" stroke-dasharray="3 2"/>
<text x="594.50" y="825.20" font-family="Liberation Sans" font-size="10.3" font-weight="bold" font-style="normal" text-anchor="middle" fill="#000" textLength="26.5" lengthAdjust="spacingAndGlyphs" >Adult</text>
<text x="650.30" y="825.20" font-family="Liberation Sans" font-size="10.3" font-weight="bold" font-style="normal" text-anchor="middle" fill="#000" textLength="39.4" lengthAdjust="spacingAndGlyphs" >Neonate</text>
</svg>
</body></html>
